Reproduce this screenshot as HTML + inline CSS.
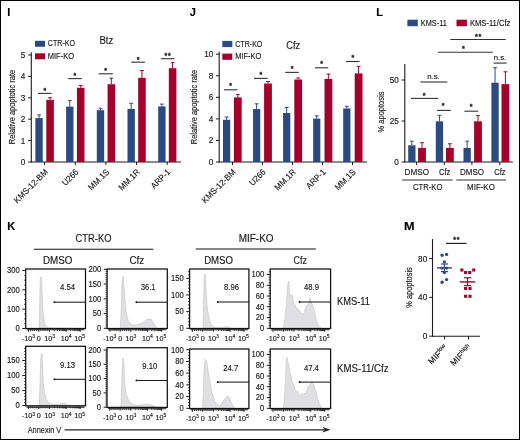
<!DOCTYPE html>
<html><head><meta charset="utf-8"><style>
html,body{margin:0;padding:0;background:#fff;}
body{width:520px;height:440px;overflow:hidden;}
svg{display:block;font-family:"Liberation Sans", sans-serif;will-change:transform;}
text{stroke:#1a1a1a;stroke-width:0.15px;} text.st{stroke:#222;stroke-width:0.3px;} text.b{stroke-width:0;}
</style></head><body>
<svg width="520" height="440" viewBox="0 0 520 440">
<rect x="0" y="0" width="520" height="440" fill="#fff"/>
<text x="7.3" y="16" font-size="11" text-anchor="start" font-weight="bold" fill="#000" >I</text>
<text x="189.8" y="16" font-size="11" text-anchor="start" font-weight="bold" fill="#000" >J</text>
<text x="376.3" y="16" font-size="11" text-anchor="start" font-weight="bold" fill="#000" >L</text>
<text x="7.2" y="229.8" font-size="11" text-anchor="start" font-weight="bold" fill="#000" >K</text>
<text x="404.0" y="229.8" font-size="11" text-anchor="start" font-weight="bold" fill="#000" textLength="10.6" lengthAdjust="spacingAndGlyphs" >M</text>
<line x1="31.3" y1="52.2" x2="31.3" y2="162.5" stroke="#1a1a1a" stroke-width="1.1"/>
<line x1="28.1" y1="162.0" x2="31.3" y2="162.0" stroke="#1a1a1a" stroke-width="1"/>
<text x="25.4" y="164.9" font-size="8.2" text-anchor="end" font-weight="normal" fill="#1a1a1a" >0</text>
<line x1="28.1" y1="140.6" x2="31.3" y2="140.6" stroke="#1a1a1a" stroke-width="1"/>
<text x="25.4" y="143.5" font-size="8.2" text-anchor="end" font-weight="normal" fill="#1a1a1a" >1</text>
<line x1="28.1" y1="119.2" x2="31.3" y2="119.2" stroke="#1a1a1a" stroke-width="1"/>
<text x="25.4" y="122.1" font-size="8.2" text-anchor="end" font-weight="normal" fill="#1a1a1a" >2</text>
<line x1="28.1" y1="97.8" x2="31.3" y2="97.8" stroke="#1a1a1a" stroke-width="1"/>
<text x="25.4" y="100.7" font-size="8.2" text-anchor="end" font-weight="normal" fill="#1a1a1a" >3</text>
<line x1="28.1" y1="76.4" x2="31.3" y2="76.4" stroke="#1a1a1a" stroke-width="1"/>
<text x="25.4" y="79.3" font-size="8.2" text-anchor="end" font-weight="normal" fill="#1a1a1a" >4</text>
<line x1="28.1" y1="55.0" x2="31.3" y2="55.0" stroke="#1a1a1a" stroke-width="1"/>
<text x="25.4" y="57.9" font-size="8.2" text-anchor="end" font-weight="normal" fill="#1a1a1a" >5</text>
<line x1="31.3" y1="162" x2="181" y2="162" stroke="#1a1a1a" stroke-width="1.1"/>
<rect x="35.4" y="118.1" width="7.35" height="43.9" fill="#2b4a80"/>
<line x1="39.07" y1="118.1" x2="39.07" y2="114.9" stroke="#2b4a80" stroke-width="1"/>
<line x1="37.17" y1="114.9" x2="40.97" y2="114.9" stroke="#2b4a80" stroke-width="1"/>
<rect x="66.1" y="106.6" width="7.35" height="55.4" fill="#2b4a80"/>
<line x1="69.77" y1="106.6" x2="69.77" y2="100.6" stroke="#2b4a80" stroke-width="1"/>
<line x1="67.87" y1="100.6" x2="71.67" y2="100.6" stroke="#2b4a80" stroke-width="1"/>
<rect x="96.8" y="110.2" width="7.35" height="51.8" fill="#2b4a80"/>
<line x1="100.47" y1="110.2" x2="100.47" y2="108.3" stroke="#2b4a80" stroke-width="1"/>
<line x1="98.57" y1="108.3" x2="102.38" y2="108.3" stroke="#2b4a80" stroke-width="1"/>
<rect x="127.5" y="109" width="7.35" height="53" fill="#2b4a80"/>
<line x1="131.18" y1="109" x2="131.18" y2="103.3" stroke="#2b4a80" stroke-width="1"/>
<line x1="129.28" y1="103.3" x2="133.08" y2="103.3" stroke="#2b4a80" stroke-width="1"/>
<rect x="158.2" y="106.4" width="7.35" height="55.6" fill="#2b4a80"/>
<line x1="161.88" y1="106.4" x2="161.88" y2="104.1" stroke="#2b4a80" stroke-width="1"/>
<line x1="159.97" y1="104.1" x2="163.78" y2="104.1" stroke="#2b4a80" stroke-width="1"/>
<rect x="46.3" y="99.8" width="7.55" height="62.2" fill="#a5002b"/>
<line x1="50.07" y1="99.8" x2="50.07" y2="97.7" stroke="#a5002b" stroke-width="1"/>
<line x1="48.17" y1="97.7" x2="51.97" y2="97.7" stroke="#a5002b" stroke-width="1"/>
<rect x="76.93" y="87.8" width="7.55" height="74.2" fill="#a5002b"/>
<line x1="80.7" y1="87.8" x2="80.7" y2="85.5" stroke="#a5002b" stroke-width="1"/>
<line x1="78.8" y1="85.5" x2="82.61" y2="85.5" stroke="#a5002b" stroke-width="1"/>
<rect x="107.56" y="84.2" width="7.55" height="77.8" fill="#a5002b"/>
<line x1="111.34" y1="84.2" x2="111.34" y2="78.2" stroke="#a5002b" stroke-width="1"/>
<line x1="109.44" y1="78.2" x2="113.24" y2="78.2" stroke="#a5002b" stroke-width="1"/>
<rect x="138.19" y="77.8" width="7.55" height="84.2" fill="#a5002b"/>
<line x1="141.97" y1="77.8" x2="141.97" y2="70.5" stroke="#a5002b" stroke-width="1"/>
<line x1="140.06" y1="70.5" x2="143.87" y2="70.5" stroke="#a5002b" stroke-width="1"/>
<rect x="168.82" y="68.2" width="7.55" height="93.8" fill="#a5002b"/>
<line x1="172.59" y1="68.2" x2="172.59" y2="62.7" stroke="#a5002b" stroke-width="1"/>
<line x1="170.69" y1="62.7" x2="174.5" y2="62.7" stroke="#a5002b" stroke-width="1"/>
<line x1="44.6" y1="162" x2="44.6" y2="165" stroke="#1a1a1a" stroke-width="1"/>
<line x1="75.25" y1="162" x2="75.25" y2="165" stroke="#1a1a1a" stroke-width="1"/>
<line x1="105.9" y1="162" x2="105.9" y2="165" stroke="#1a1a1a" stroke-width="1"/>
<line x1="136.55" y1="162" x2="136.55" y2="165" stroke="#1a1a1a" stroke-width="1"/>
<line x1="167.2" y1="162" x2="167.2" y2="165" stroke="#1a1a1a" stroke-width="1"/>
<rect x="35" y="40.8" width="10" height="6" fill="#2b4a80"/>
<text x="47.8" y="46.4" font-size="8.5" text-anchor="start" font-weight="normal" fill="#1a1a1a" textLength="27.2" lengthAdjust="spacingAndGlyphs" >CTR-KO</text>
<rect x="35" y="53.3" width="10" height="6" fill="#a5002b"/>
<text x="47.8" y="58.9" font-size="8.5" text-anchor="start" font-weight="normal" fill="#1a1a1a" textLength="26.2" lengthAdjust="spacingAndGlyphs" >MIF-KO</text>
<text x="99.4" y="43.6" font-size="10" text-anchor="start" font-weight="normal" fill="#1a1a1a" textLength="13.9" lengthAdjust="spacingAndGlyphs" >Btz</text>
<line x1="38.0" y1="93.4" x2="51.5" y2="93.4" stroke="#333" stroke-width="1.1"/>
<text x="44.75" y="93.0" font-size="7" text-anchor="middle" font-weight="bold" fill="#222" class="st">*</text>
<line x1="68.2" y1="78.6" x2="81.7" y2="78.6" stroke="#333" stroke-width="1.1"/>
<text x="74.95" y="78.2" font-size="7" text-anchor="middle" font-weight="bold" fill="#222" class="st">*</text>
<line x1="98.7" y1="73.8" x2="112.7" y2="73.8" stroke="#333" stroke-width="1.1"/>
<text x="105.7" y="73.4" font-size="7" text-anchor="middle" font-weight="bold" fill="#222" class="st">*</text>
<line x1="131.3" y1="62.2" x2="144.9" y2="62.2" stroke="#333" stroke-width="1.1"/>
<text x="138.1" y="61.8" font-size="7" text-anchor="middle" font-weight="bold" fill="#222" class="st">*</text>
<line x1="160.9" y1="58.7" x2="174.5" y2="58.7" stroke="#333" stroke-width="1.1"/>
<text x="165.95" y="58.3" font-size="7" text-anchor="middle" font-weight="bold" fill="#222" class="st">*</text>
<text x="169.45" y="58.3" font-size="7" text-anchor="middle" font-weight="bold" fill="#222" class="st">*</text>
<text transform="translate(15.2,107) rotate(-90)" font-size="8.3" text-anchor="middle" fill="#1a1a1a" textLength="74.5" lengthAdjust="spacingAndGlyphs">Relative apoptotic rate</text>
<text transform="translate(48.4,172.6) rotate(-45) scale(0.94,1)" font-size="8.6" text-anchor="end" fill="#1a1a1a">KMS-12-BM</text>
<text transform="translate(79.05,172.6) rotate(-45) scale(0.94,1)" font-size="8.6" text-anchor="end" fill="#1a1a1a">U266</text>
<text transform="translate(109.7,172.6) rotate(-45) scale(0.94,1)" font-size="8.6" text-anchor="end" fill="#1a1a1a">MM.1S</text>
<text transform="translate(140.35,172.6) rotate(-45) scale(0.94,1)" font-size="8.6" text-anchor="end" fill="#1a1a1a">MM.1R</text>
<text transform="translate(171.0,172.6) rotate(-45) scale(0.94,1)" font-size="8.6" text-anchor="end" fill="#1a1a1a">ARP-1</text>
<line x1="219.2" y1="51.8" x2="219.2" y2="162.5" stroke="#1a1a1a" stroke-width="1.1"/>
<line x1="216.0" y1="162.0" x2="219.2" y2="162.0" stroke="#1a1a1a" stroke-width="1"/>
<text x="213.3" y="164.9" font-size="8.2" text-anchor="end" font-weight="normal" fill="#1a1a1a" >0</text>
<line x1="216.0" y1="140.44" x2="219.2" y2="140.44" stroke="#1a1a1a" stroke-width="1"/>
<text x="213.3" y="143.34" font-size="8.2" text-anchor="end" font-weight="normal" fill="#1a1a1a" >2</text>
<line x1="216.0" y1="118.88" x2="219.2" y2="118.88" stroke="#1a1a1a" stroke-width="1"/>
<text x="213.3" y="121.78" font-size="8.2" text-anchor="end" font-weight="normal" fill="#1a1a1a" >4</text>
<line x1="216.0" y1="97.32" x2="219.2" y2="97.32" stroke="#1a1a1a" stroke-width="1"/>
<text x="213.3" y="100.22" font-size="8.2" text-anchor="end" font-weight="normal" fill="#1a1a1a" >6</text>
<line x1="216.0" y1="75.76" x2="219.2" y2="75.76" stroke="#1a1a1a" stroke-width="1"/>
<text x="213.3" y="78.66" font-size="8.2" text-anchor="end" font-weight="normal" fill="#1a1a1a" >8</text>
<line x1="216.0" y1="54.2" x2="219.2" y2="54.2" stroke="#1a1a1a" stroke-width="1"/>
<text x="213.3" y="57.1" font-size="8.2" text-anchor="end" font-weight="normal" fill="#1a1a1a" >10</text>
<line x1="219.2" y1="162" x2="367" y2="162" stroke="#1a1a1a" stroke-width="1.1"/>
<rect x="223.0" y="119.8" width="7.2" height="42.2" fill="#2b4a80"/>
<line x1="226.6" y1="119.8" x2="226.6" y2="117" stroke="#2b4a80" stroke-width="1"/>
<line x1="224.7" y1="117" x2="228.5" y2="117" stroke="#2b4a80" stroke-width="1"/>
<rect x="253.05" y="109.1" width="7.2" height="52.9" fill="#2b4a80"/>
<line x1="256.65" y1="109.1" x2="256.65" y2="103.8" stroke="#2b4a80" stroke-width="1"/>
<line x1="254.75" y1="103.8" x2="258.55" y2="103.8" stroke="#2b4a80" stroke-width="1"/>
<rect x="283.1" y="113" width="7.2" height="49" fill="#2b4a80"/>
<line x1="286.7" y1="113" x2="286.7" y2="107.5" stroke="#2b4a80" stroke-width="1"/>
<line x1="284.8" y1="107.5" x2="288.6" y2="107.5" stroke="#2b4a80" stroke-width="1"/>
<rect x="313.15" y="118.6" width="7.2" height="43.4" fill="#2b4a80"/>
<line x1="316.75" y1="118.6" x2="316.75" y2="115.8" stroke="#2b4a80" stroke-width="1"/>
<line x1="314.85" y1="115.8" x2="318.65" y2="115.8" stroke="#2b4a80" stroke-width="1"/>
<rect x="343.2" y="108.5" width="7.2" height="53.5" fill="#2b4a80"/>
<line x1="346.8" y1="108.5" x2="346.8" y2="106.3" stroke="#2b4a80" stroke-width="1"/>
<line x1="344.9" y1="106.3" x2="348.7" y2="106.3" stroke="#2b4a80" stroke-width="1"/>
<rect x="233.9" y="97.4" width="7.8" height="64.6" fill="#a5002b"/>
<line x1="237.8" y1="97.4" x2="237.8" y2="94.6" stroke="#a5002b" stroke-width="1"/>
<line x1="235.9" y1="94.6" x2="239.7" y2="94.6" stroke="#a5002b" stroke-width="1"/>
<rect x="264.1" y="83.5" width="7.8" height="78.5" fill="#a5002b"/>
<line x1="268.0" y1="83.5" x2="268.0" y2="81.5" stroke="#a5002b" stroke-width="1"/>
<line x1="266.1" y1="81.5" x2="269.9" y2="81.5" stroke="#a5002b" stroke-width="1"/>
<rect x="294.3" y="79.5" width="7.8" height="82.5" fill="#a5002b"/>
<line x1="298.2" y1="79.5" x2="298.2" y2="77.9" stroke="#a5002b" stroke-width="1"/>
<line x1="296.3" y1="77.9" x2="300.1" y2="77.9" stroke="#a5002b" stroke-width="1"/>
<rect x="324.5" y="78.9" width="7.8" height="83.1" fill="#a5002b"/>
<line x1="328.4" y1="78.9" x2="328.4" y2="74" stroke="#a5002b" stroke-width="1"/>
<line x1="326.5" y1="74" x2="330.3" y2="74" stroke="#a5002b" stroke-width="1"/>
<rect x="354.7" y="73.4" width="7.8" height="88.6" fill="#a5002b"/>
<line x1="358.6" y1="73.4" x2="358.6" y2="66.4" stroke="#a5002b" stroke-width="1"/>
<line x1="356.7" y1="66.4" x2="360.5" y2="66.4" stroke="#a5002b" stroke-width="1"/>
<line x1="232.5" y1="162" x2="232.5" y2="165" stroke="#1a1a1a" stroke-width="1"/>
<line x1="262.5" y1="162" x2="262.5" y2="165" stroke="#1a1a1a" stroke-width="1"/>
<line x1="292.5" y1="162" x2="292.5" y2="165" stroke="#1a1a1a" stroke-width="1"/>
<line x1="322.5" y1="162" x2="322.5" y2="165" stroke="#1a1a1a" stroke-width="1"/>
<line x1="352.5" y1="162" x2="352.5" y2="165" stroke="#1a1a1a" stroke-width="1"/>
<rect x="222.3" y="40.9" width="10" height="6.2" fill="#2b4a80"/>
<text x="235.2" y="46.6" font-size="8.5" text-anchor="start" font-weight="normal" fill="#1a1a1a" textLength="27.2" lengthAdjust="spacingAndGlyphs" >CTR-KO</text>
<rect x="222.3" y="53.6" width="10" height="6.2" fill="#a5002b"/>
<text x="235.2" y="59.1" font-size="8.5" text-anchor="start" font-weight="normal" fill="#1a1a1a" textLength="26.2" lengthAdjust="spacingAndGlyphs" >MIF-KO</text>
<text x="286.3" y="49.0" font-size="10" text-anchor="start" font-weight="normal" fill="#1a1a1a" textLength="13.8" lengthAdjust="spacingAndGlyphs" >Cfz</text>
<line x1="223.9" y1="89.8" x2="237.5" y2="89.8" stroke="#333" stroke-width="1.1"/>
<text x="230.7" y="88.1" font-size="7" text-anchor="middle" font-weight="bold" fill="#222" class="st">*</text>
<line x1="254.0" y1="78.4" x2="267.7" y2="78.4" stroke="#333" stroke-width="1.1"/>
<text x="260.85" y="76.7" font-size="7" text-anchor="middle" font-weight="bold" fill="#222" class="st">*</text>
<line x1="285.2" y1="72.4" x2="298.8" y2="72.4" stroke="#333" stroke-width="1.1"/>
<text x="292.0" y="70.7" font-size="7" text-anchor="middle" font-weight="bold" fill="#222" class="st">*</text>
<line x1="315.0" y1="67.8" x2="328.3" y2="67.8" stroke="#333" stroke-width="1.1"/>
<text x="321.65" y="66.1" font-size="7" text-anchor="middle" font-weight="bold" fill="#222" class="st">*</text>
<line x1="345.9" y1="61.5" x2="359.6" y2="61.5" stroke="#333" stroke-width="1.1"/>
<text x="352.75" y="59.8" font-size="7" text-anchor="middle" font-weight="bold" fill="#222" class="st">*</text>
<text transform="translate(197.2,107) rotate(-90)" font-size="8.3" text-anchor="middle" fill="#1a1a1a" textLength="74.5" lengthAdjust="spacingAndGlyphs">Relative apoptotic rate</text>
<text transform="translate(236.3,172.6) rotate(-45) scale(0.94,1)" font-size="8.6" text-anchor="end" fill="#1a1a1a">KMS-12-BM</text>
<text transform="translate(266.3,172.6) rotate(-45) scale(0.94,1)" font-size="8.6" text-anchor="end" fill="#1a1a1a">U266</text>
<text transform="translate(296.3,172.6) rotate(-45) scale(0.94,1)" font-size="8.6" text-anchor="end" fill="#1a1a1a">MM.1R</text>
<text transform="translate(326.3,172.6) rotate(-45) scale(0.94,1)" font-size="8.6" text-anchor="end" fill="#1a1a1a">ARP-1</text>
<text transform="translate(356.3,172.6) rotate(-45) scale(0.94,1)" font-size="8.6" text-anchor="end" fill="#1a1a1a">MM.1S</text>
<line x1="404.8" y1="64" x2="404.8" y2="162.5" stroke="#1a1a1a" stroke-width="1.1"/>
<line x1="401.6" y1="162.0" x2="404.8" y2="162.0" stroke="#1a1a1a" stroke-width="1"/>
<text x="398.9" y="164.9" font-size="8.2" text-anchor="end" font-weight="normal" fill="#1a1a1a" >0</text>
<line x1="401.6" y1="121.0" x2="404.8" y2="121.0" stroke="#1a1a1a" stroke-width="1"/>
<text x="398.9" y="123.9" font-size="8.2" text-anchor="end" font-weight="normal" fill="#1a1a1a" >25</text>
<line x1="401.6" y1="80.0" x2="404.8" y2="80.0" stroke="#1a1a1a" stroke-width="1"/>
<text x="398.9" y="82.9" font-size="8.2" text-anchor="end" font-weight="normal" fill="#1a1a1a" >50</text>
<line x1="404.8" y1="162" x2="512.8" y2="162" stroke="#1a1a1a" stroke-width="1.1"/>
<rect x="408.2" y="145.3" width="7.3" height="16.7" fill="#2b4a80"/>
<line x1="411.85" y1="145.3" x2="411.85" y2="141.2" stroke="#2b4a80" stroke-width="1"/>
<line x1="409.95" y1="141.2" x2="413.75" y2="141.2" stroke="#2b4a80" stroke-width="1"/>
<rect x="435.8" y="121.3" width="7.3" height="40.7" fill="#2b4a80"/>
<line x1="439.45" y1="121.3" x2="439.45" y2="115.3" stroke="#2b4a80" stroke-width="1"/>
<line x1="437.55" y1="115.3" x2="441.35" y2="115.3" stroke="#2b4a80" stroke-width="1"/>
<rect x="463.5" y="147.9" width="7.3" height="14.1" fill="#2b4a80"/>
<line x1="467.15" y1="147.9" x2="467.15" y2="141.2" stroke="#2b4a80" stroke-width="1"/>
<line x1="465.25" y1="141.2" x2="469.05" y2="141.2" stroke="#2b4a80" stroke-width="1"/>
<rect x="491.4" y="82.7" width="7.3" height="79.3" fill="#2b4a80"/>
<line x1="495.05" y1="82.7" x2="495.05" y2="67.7" stroke="#2b4a80" stroke-width="1"/>
<line x1="493.15" y1="67.7" x2="496.95" y2="67.7" stroke="#2b4a80" stroke-width="1"/>
<rect x="418.1" y="147.9" width="7.8" height="14.1" fill="#a5002b"/>
<line x1="422.0" y1="147.9" x2="422.0" y2="142.7" stroke="#a5002b" stroke-width="1"/>
<line x1="420.1" y1="142.7" x2="423.9" y2="142.7" stroke="#a5002b" stroke-width="1"/>
<rect x="446.0" y="147.9" width="7.8" height="14.1" fill="#a5002b"/>
<line x1="449.9" y1="147.9" x2="449.9" y2="143.8" stroke="#a5002b" stroke-width="1"/>
<line x1="448.0" y1="143.8" x2="451.8" y2="143.8" stroke="#a5002b" stroke-width="1"/>
<rect x="474.1" y="121.3" width="7.8" height="40.7" fill="#a5002b"/>
<line x1="478.0" y1="121.3" x2="478.0" y2="115.6" stroke="#a5002b" stroke-width="1"/>
<line x1="476.1" y1="115.6" x2="479.9" y2="115.6" stroke="#a5002b" stroke-width="1"/>
<rect x="501.5" y="84.1" width="7.8" height="77.9" fill="#a5002b"/>
<line x1="505.4" y1="84.1" x2="505.4" y2="71.8" stroke="#a5002b" stroke-width="1"/>
<line x1="503.5" y1="71.8" x2="507.3" y2="71.8" stroke="#a5002b" stroke-width="1"/>
<line x1="416.6" y1="162" x2="416.6" y2="165" stroke="#1a1a1a" stroke-width="1"/>
<line x1="444.3" y1="162" x2="444.3" y2="165" stroke="#1a1a1a" stroke-width="1"/>
<line x1="471.9" y1="162" x2="471.9" y2="165" stroke="#1a1a1a" stroke-width="1"/>
<line x1="499.8" y1="162" x2="499.8" y2="165" stroke="#1a1a1a" stroke-width="1"/>
<rect x="407.4" y="19.7" width="10.4" height="6.5" fill="#2b4a80"/>
<text x="420.8" y="25.9" font-size="8.5" text-anchor="start" font-weight="normal" fill="#1a1a1a" textLength="26" lengthAdjust="spacingAndGlyphs" >KMS-11</text>
<rect x="456.5" y="19.7" width="10.4" height="6.5" fill="#a5002b"/>
<text x="470" y="25.9" font-size="8.5" text-anchor="start" font-weight="normal" fill="#1a1a1a" textLength="40.3" lengthAdjust="spacingAndGlyphs" >KMS-11/Cfz</text>
<line x1="411" y1="98.4" x2="438" y2="98.4" stroke="#333" stroke-width="1.1"/>
<text x="424.2" y="97.5" font-size="7" text-anchor="middle" font-weight="bold" fill="#222" class="st">*</text>
<line x1="420.3" y1="82" x2="447.3" y2="82" stroke="#333" stroke-width="1.1"/>
<text x="433.5" y="79.3" font-size="7.8" text-anchor="middle" font-weight="normal" fill="#222" >n.s.</text>
<line x1="436.9" y1="110.4" x2="450.8" y2="110.4" stroke="#333" stroke-width="1.1"/>
<text x="443.2" y="108.4" font-size="7" text-anchor="middle" font-weight="bold" fill="#222" class="st">*</text>
<line x1="464.3" y1="111.2" x2="478.2" y2="111.2" stroke="#333" stroke-width="1.1"/>
<text x="471.1" y="109.3" font-size="7" text-anchor="middle" font-weight="bold" fill="#222" class="st">*</text>
<line x1="493.5" y1="63.1" x2="506.6" y2="63.1" stroke="#333" stroke-width="1.1"/>
<text x="500" y="60.3" font-size="7.8" text-anchor="middle" font-weight="normal" fill="#222" >n.s.</text>
<line x1="438" y1="52.2" x2="492.8" y2="52.2" stroke="#333" stroke-width="1.1"/>
<text x="463.4" y="51.3" font-size="7" text-anchor="middle" font-weight="bold" fill="#222" class="st">*</text>
<line x1="450.3" y1="39.5" x2="505.7" y2="39.5" stroke="#333" stroke-width="1.1"/>
<text x="476.35" y="38.6" font-size="7" text-anchor="middle" font-weight="bold" fill="#222" class="st">*</text>
<text x="479.85" y="38.6" font-size="7" text-anchor="middle" font-weight="bold" fill="#222" class="st">*</text>
<text transform="translate(384,112) rotate(-90)" font-size="8.8" text-anchor="middle" fill="#1a1a1a" textLength="41" lengthAdjust="spacingAndGlyphs">% apoptosis</text>
<text x="404.6" y="175.3" font-size="9" text-anchor="start" font-weight="normal" fill="#1a1a1a" textLength="24.5" lengthAdjust="spacingAndGlyphs" >DMSO</text>
<text x="439" y="175.3" font-size="9" text-anchor="start" font-weight="normal" fill="#1a1a1a" textLength="11.3" lengthAdjust="spacingAndGlyphs" >Cfz</text>
<text x="459.9" y="175.3" font-size="9" text-anchor="start" font-weight="normal" fill="#1a1a1a" textLength="24.1" lengthAdjust="spacingAndGlyphs" >DMSO</text>
<text x="494.3" y="175.3" font-size="9" text-anchor="start" font-weight="normal" fill="#1a1a1a" textLength="11.3" lengthAdjust="spacingAndGlyphs" >Cfz</text>
<line x1="402.2" y1="180" x2="452.7" y2="180" stroke="#333" stroke-width="1.2"/>
<line x1="456.3" y1="180" x2="506" y2="180" stroke="#333" stroke-width="1.2"/>
<text x="413" y="190.4" font-size="8.6" text-anchor="start" font-weight="normal" fill="#1a1a1a" textLength="29.4" lengthAdjust="spacingAndGlyphs" >CTR-KO</text>
<text x="467.1" y="190.4" font-size="8.6" text-anchor="start" font-weight="normal" fill="#1a1a1a" textLength="27.7" lengthAdjust="spacingAndGlyphs" >MIF-KO</text>
<text x="75.6" y="242" font-size="10" text-anchor="start" font-weight="normal" fill="#1a1a1a" textLength="35.9" lengthAdjust="spacingAndGlyphs" >CTR-KO</text>
<line x1="33.7" y1="249.3" x2="153.3" y2="249.3" stroke="#111" stroke-width="1.1"/>
<text x="238.8" y="242" font-size="10" text-anchor="start" font-weight="normal" fill="#1a1a1a" textLength="34.7" lengthAdjust="spacingAndGlyphs" >MIF-KO</text>
<line x1="195.8" y1="249.0" x2="315.8" y2="249.0" stroke="#111" stroke-width="1.1"/>
<text x="42.9" y="264.1" font-size="10" text-anchor="start" font-weight="normal" fill="#1a1a1a" textLength="29.4" lengthAdjust="spacingAndGlyphs" >DMSO</text>
<text x="129.5" y="264.1" font-size="10" text-anchor="start" font-weight="normal" fill="#1a1a1a" textLength="14.7" lengthAdjust="spacingAndGlyphs" >Cfz</text>
<text x="204.2" y="264.1" font-size="10" text-anchor="start" font-weight="normal" fill="#1a1a1a" textLength="28.8" lengthAdjust="spacingAndGlyphs" >DMSO</text>
<text x="293.5" y="264.1" font-size="10" text-anchor="start" font-weight="normal" fill="#1a1a1a" textLength="13.4" lengthAdjust="spacingAndGlyphs" >Cfz</text>
<text x="337.0" y="305.1" font-size="10.6" text-anchor="start" font-weight="normal" fill="#1a1a1a" textLength="33.0" lengthAdjust="spacingAndGlyphs" >KMS-11</text>
<text x="337.1" y="372.4" font-size="10.6" text-anchor="start" font-weight="normal" fill="#1a1a1a" textLength="51.4" lengthAdjust="spacingAndGlyphs" >KMS-11/Cfz</text>
<text x="27.7" y="433.3" font-size="9" text-anchor="start" font-weight="normal" fill="#1a1a1a" textLength="33.6" lengthAdjust="spacingAndGlyphs" >Annexin V</text>
<line x1="64.6" y1="429.8" x2="324" y2="429.8" stroke="#222" stroke-width="1.3"/>
<path d="M322.5,427 L330.5,429.8 L322.5,432.6 L324.5,429.8 Z" fill="#222"/>
<polygon points="39.3,328.5 39.8,300 40.3,277.2 41.3,277 41.8,284 42.3,298 42.9,310 43.7,318 44.8,323.5 46.3,326.6 48.5,327.8 60,328.2 85,328.5" fill="#e0e0e2" stroke="#c2c2c6" stroke-width="0.6"/>
<rect x="25.7" y="269" width="59.8" height="59.5" fill="none" stroke="#111" stroke-width="1.25"/>
<line x1="22.3" y1="270.5" x2="25.7" y2="270.5" stroke="#1a1a1a" stroke-width="1"/>
<text x="19.8" y="273.3" font-size="8.2" text-anchor="end" font-weight="normal" fill="#1a1a1a" textLength="12.75" lengthAdjust="spacingAndGlyphs" >300</text>
<line x1="22.3" y1="289.83" x2="25.7" y2="289.83" stroke="#1a1a1a" stroke-width="1"/>
<text x="19.8" y="292.63" font-size="8.2" text-anchor="end" font-weight="normal" fill="#1a1a1a" textLength="12.75" lengthAdjust="spacingAndGlyphs" >200</text>
<line x1="22.3" y1="309.17" x2="25.7" y2="309.17" stroke="#1a1a1a" stroke-width="1"/>
<text x="19.8" y="311.97" font-size="8.2" text-anchor="end" font-weight="normal" fill="#1a1a1a" textLength="12.75" lengthAdjust="spacingAndGlyphs" >100</text>
<line x1="22.3" y1="328.5" x2="25.7" y2="328.5" stroke="#1a1a1a" stroke-width="1"/>
<text x="19.8" y="331.3" font-size="8.2" text-anchor="end" font-weight="normal" fill="#1a1a1a" textLength="4.25" lengthAdjust="spacingAndGlyphs" >0</text>
<line x1="24.1" y1="323.67" x2="25.7" y2="323.67" stroke="#1a1a1a" stroke-width="0.8"/>
<line x1="24.1" y1="318.83" x2="25.7" y2="318.83" stroke="#1a1a1a" stroke-width="0.8"/>
<line x1="24.1" y1="314.0" x2="25.7" y2="314.0" stroke="#1a1a1a" stroke-width="0.8"/>
<line x1="24.1" y1="304.33" x2="25.7" y2="304.33" stroke="#1a1a1a" stroke-width="0.8"/>
<line x1="24.1" y1="299.5" x2="25.7" y2="299.5" stroke="#1a1a1a" stroke-width="0.8"/>
<line x1="24.1" y1="294.67" x2="25.7" y2="294.67" stroke="#1a1a1a" stroke-width="0.8"/>
<line x1="24.1" y1="285.0" x2="25.7" y2="285.0" stroke="#1a1a1a" stroke-width="0.8"/>
<line x1="24.1" y1="280.17" x2="25.7" y2="280.17" stroke="#1a1a1a" stroke-width="0.8"/>
<line x1="24.1" y1="275.33" x2="25.7" y2="275.33" stroke="#1a1a1a" stroke-width="0.8"/>
<line x1="26.7" y1="329.8" x2="84.5" y2="329.8" stroke="#1a1a1a" stroke-width="1.1"/>
<line x1="28.5" y1="329.5" x2="28.5" y2="331.7" stroke="#1a1a1a" stroke-width="1"/>
<line x1="38.8" y1="329.5" x2="38.8" y2="331.7" stroke="#1a1a1a" stroke-width="1"/>
<line x1="49.4" y1="329.5" x2="49.4" y2="331.7" stroke="#1a1a1a" stroke-width="1"/>
<line x1="66.2" y1="329.5" x2="66.2" y2="331.7" stroke="#1a1a1a" stroke-width="1"/>
<line x1="80.2" y1="329.5" x2="80.2" y2="331.7" stroke="#1a1a1a" stroke-width="1"/>
<line x1="54.46" y1="329.5" x2="54.46" y2="331.1" stroke="#1a1a1a" stroke-width="0.8"/>
<line x1="57.42" y1="329.5" x2="57.42" y2="331.1" stroke="#1a1a1a" stroke-width="0.8"/>
<line x1="59.51" y1="329.5" x2="59.51" y2="331.1" stroke="#1a1a1a" stroke-width="0.8"/>
<line x1="61.14" y1="329.5" x2="61.14" y2="331.1" stroke="#1a1a1a" stroke-width="0.8"/>
<line x1="62.47" y1="329.5" x2="62.47" y2="331.1" stroke="#1a1a1a" stroke-width="0.8"/>
<line x1="63.6" y1="329.5" x2="63.6" y2="331.1" stroke="#1a1a1a" stroke-width="0.8"/>
<line x1="64.57" y1="329.5" x2="64.57" y2="331.1" stroke="#1a1a1a" stroke-width="0.8"/>
<line x1="65.43" y1="329.5" x2="65.43" y2="331.1" stroke="#1a1a1a" stroke-width="0.8"/>
<line x1="70.41" y1="329.5" x2="70.41" y2="331.1" stroke="#1a1a1a" stroke-width="0.8"/>
<line x1="72.88" y1="329.5" x2="72.88" y2="331.1" stroke="#1a1a1a" stroke-width="0.8"/>
<line x1="74.63" y1="329.5" x2="74.63" y2="331.1" stroke="#1a1a1a" stroke-width="0.8"/>
<line x1="75.99" y1="329.5" x2="75.99" y2="331.1" stroke="#1a1a1a" stroke-width="0.8"/>
<line x1="77.09" y1="329.5" x2="77.09" y2="331.1" stroke="#1a1a1a" stroke-width="0.8"/>
<line x1="78.03" y1="329.5" x2="78.03" y2="331.1" stroke="#1a1a1a" stroke-width="0.8"/>
<line x1="78.84" y1="329.5" x2="78.84" y2="331.1" stroke="#1a1a1a" stroke-width="0.8"/>
<line x1="79.56" y1="329.5" x2="79.56" y2="331.1" stroke="#1a1a1a" stroke-width="0.8"/>
<line x1="30.56" y1="329.5" x2="30.56" y2="331.1" stroke="#1a1a1a" stroke-width="0.8"/>
<line x1="32.62" y1="329.5" x2="32.62" y2="331.1" stroke="#1a1a1a" stroke-width="0.8"/>
<line x1="34.68" y1="329.5" x2="34.68" y2="331.1" stroke="#1a1a1a" stroke-width="0.8"/>
<line x1="36.74" y1="329.5" x2="36.74" y2="331.1" stroke="#1a1a1a" stroke-width="0.8"/>
<line x1="40.92" y1="329.5" x2="40.92" y2="331.1" stroke="#1a1a1a" stroke-width="0.8"/>
<line x1="43.04" y1="329.5" x2="43.04" y2="331.1" stroke="#1a1a1a" stroke-width="0.8"/>
<line x1="45.16" y1="329.5" x2="45.16" y2="331.1" stroke="#1a1a1a" stroke-width="0.8"/>
<line x1="47.28" y1="329.5" x2="47.28" y2="331.1" stroke="#1a1a1a" stroke-width="0.8"/>
<text x="21.8" y="340.9" font-size="7.2" fill="#1a1a1a">-10<tspan font-size="5" dy="-2.6">3</tspan></text>
<text x="36.8" y="340.9" font-size="7.2" text-anchor="start" font-weight="normal" fill="#1a1a1a" >0</text>
<text x="44.2" y="340.9" font-size="7.2" fill="#1a1a1a">10<tspan font-size="5" dy="-2.6">3</tspan></text>
<text x="60.7" y="340.9" font-size="7.2" fill="#1a1a1a">10<tspan font-size="5" dy="-2.6">4</tspan></text>
<text x="74.2" y="340.9" font-size="7.2" fill="#1a1a1a">10<tspan font-size="5" dy="-2.6">5</tspan></text>
<line x1="54.2" y1="302.2" x2="85.5" y2="302.2" stroke="#1a1a1a" stroke-width="1.05"/>
<rect x="53.6" y="301.3" width="1.5" height="1.8" fill="#1a1a1a"/>
<text x="60" y="290.0" font-size="8.8" text-anchor="start" font-weight="normal" fill="#1a1a1a" textLength="15.0" lengthAdjust="spacingAndGlyphs" >4.54</text>
<polygon points="120.2,328.5 121.2,312.3 122.1,281.3 123,275.9 124,286.9 125,301 126.1,312.3 128.2,320.7 131,324.2 135.2,325.2 138.8,324.2 141.6,323.5 145.1,320.7 147.9,318.6 149.3,319.5 151.4,319.3 153.5,322.8 155.7,326.3 157.5,328.5" fill="#e0e0e2" stroke="#c2c2c6" stroke-width="0.6"/>
<rect x="107.1" y="269" width="60.20000000000002" height="59.5" fill="none" stroke="#111" stroke-width="1.25"/>
<line x1="103.7" y1="269.3" x2="107.1" y2="269.3" stroke="#1a1a1a" stroke-width="1"/>
<text x="101.2" y="272.1" font-size="8.2" text-anchor="end" font-weight="normal" fill="#1a1a1a" textLength="12.75" lengthAdjust="spacingAndGlyphs" >200</text>
<line x1="103.7" y1="284.05" x2="107.1" y2="284.05" stroke="#1a1a1a" stroke-width="1"/>
<text x="101.2" y="286.85" font-size="8.2" text-anchor="end" font-weight="normal" fill="#1a1a1a" textLength="12.75" lengthAdjust="spacingAndGlyphs" >150</text>
<line x1="103.7" y1="298.8" x2="107.1" y2="298.8" stroke="#1a1a1a" stroke-width="1"/>
<text x="101.2" y="301.6" font-size="8.2" text-anchor="end" font-weight="normal" fill="#1a1a1a" textLength="12.75" lengthAdjust="spacingAndGlyphs" >100</text>
<line x1="103.7" y1="313.55" x2="107.1" y2="313.55" stroke="#1a1a1a" stroke-width="1"/>
<text x="101.2" y="316.35" font-size="8.2" text-anchor="end" font-weight="normal" fill="#1a1a1a" textLength="8.5" lengthAdjust="spacingAndGlyphs" >50</text>
<line x1="103.7" y1="328.3" x2="107.1" y2="328.3" stroke="#1a1a1a" stroke-width="1"/>
<text x="101.2" y="331.1" font-size="8.2" text-anchor="end" font-weight="normal" fill="#1a1a1a" textLength="4.25" lengthAdjust="spacingAndGlyphs" >0</text>
<line x1="105.5" y1="326.19" x2="107.1" y2="326.19" stroke="#1a1a1a" stroke-width="0.8"/>
<line x1="105.5" y1="324.09" x2="107.1" y2="324.09" stroke="#1a1a1a" stroke-width="0.8"/>
<line x1="105.5" y1="321.98" x2="107.1" y2="321.98" stroke="#1a1a1a" stroke-width="0.8"/>
<line x1="105.5" y1="319.87" x2="107.1" y2="319.87" stroke="#1a1a1a" stroke-width="0.8"/>
<line x1="105.5" y1="317.76" x2="107.1" y2="317.76" stroke="#1a1a1a" stroke-width="0.8"/>
<line x1="105.5" y1="315.66" x2="107.1" y2="315.66" stroke="#1a1a1a" stroke-width="0.8"/>
<line x1="105.5" y1="311.44" x2="107.1" y2="311.44" stroke="#1a1a1a" stroke-width="0.8"/>
<line x1="105.5" y1="309.34" x2="107.1" y2="309.34" stroke="#1a1a1a" stroke-width="0.8"/>
<line x1="105.5" y1="307.23" x2="107.1" y2="307.23" stroke="#1a1a1a" stroke-width="0.8"/>
<line x1="105.5" y1="305.12" x2="107.1" y2="305.12" stroke="#1a1a1a" stroke-width="0.8"/>
<line x1="105.5" y1="303.01" x2="107.1" y2="303.01" stroke="#1a1a1a" stroke-width="0.8"/>
<line x1="105.5" y1="300.91" x2="107.1" y2="300.91" stroke="#1a1a1a" stroke-width="0.8"/>
<line x1="105.5" y1="296.69" x2="107.1" y2="296.69" stroke="#1a1a1a" stroke-width="0.8"/>
<line x1="105.5" y1="294.59" x2="107.1" y2="294.59" stroke="#1a1a1a" stroke-width="0.8"/>
<line x1="105.5" y1="292.48" x2="107.1" y2="292.48" stroke="#1a1a1a" stroke-width="0.8"/>
<line x1="105.5" y1="290.37" x2="107.1" y2="290.37" stroke="#1a1a1a" stroke-width="0.8"/>
<line x1="105.5" y1="288.26" x2="107.1" y2="288.26" stroke="#1a1a1a" stroke-width="0.8"/>
<line x1="105.5" y1="286.16" x2="107.1" y2="286.16" stroke="#1a1a1a" stroke-width="0.8"/>
<line x1="105.5" y1="281.94" x2="107.1" y2="281.94" stroke="#1a1a1a" stroke-width="0.8"/>
<line x1="105.5" y1="279.84" x2="107.1" y2="279.84" stroke="#1a1a1a" stroke-width="0.8"/>
<line x1="105.5" y1="277.73" x2="107.1" y2="277.73" stroke="#1a1a1a" stroke-width="0.8"/>
<line x1="105.5" y1="275.62" x2="107.1" y2="275.62" stroke="#1a1a1a" stroke-width="0.8"/>
<line x1="105.5" y1="273.51" x2="107.1" y2="273.51" stroke="#1a1a1a" stroke-width="0.8"/>
<line x1="105.5" y1="271.41" x2="107.1" y2="271.41" stroke="#1a1a1a" stroke-width="0.8"/>
<line x1="108.1" y1="329.8" x2="166.3" y2="329.8" stroke="#1a1a1a" stroke-width="1.1"/>
<line x1="109.9" y1="329.5" x2="109.9" y2="331.7" stroke="#1a1a1a" stroke-width="1"/>
<line x1="120.2" y1="329.5" x2="120.2" y2="331.7" stroke="#1a1a1a" stroke-width="1"/>
<line x1="130.8" y1="329.5" x2="130.8" y2="331.7" stroke="#1a1a1a" stroke-width="1"/>
<line x1="147.6" y1="329.5" x2="147.6" y2="331.7" stroke="#1a1a1a" stroke-width="1"/>
<line x1="161.6" y1="329.5" x2="161.6" y2="331.7" stroke="#1a1a1a" stroke-width="1"/>
<line x1="135.86" y1="329.5" x2="135.86" y2="331.1" stroke="#1a1a1a" stroke-width="0.8"/>
<line x1="138.82" y1="329.5" x2="138.82" y2="331.1" stroke="#1a1a1a" stroke-width="0.8"/>
<line x1="140.91" y1="329.5" x2="140.91" y2="331.1" stroke="#1a1a1a" stroke-width="0.8"/>
<line x1="142.54" y1="329.5" x2="142.54" y2="331.1" stroke="#1a1a1a" stroke-width="0.8"/>
<line x1="143.87" y1="329.5" x2="143.87" y2="331.1" stroke="#1a1a1a" stroke-width="0.8"/>
<line x1="145.0" y1="329.5" x2="145.0" y2="331.1" stroke="#1a1a1a" stroke-width="0.8"/>
<line x1="145.97" y1="329.5" x2="145.97" y2="331.1" stroke="#1a1a1a" stroke-width="0.8"/>
<line x1="146.83" y1="329.5" x2="146.83" y2="331.1" stroke="#1a1a1a" stroke-width="0.8"/>
<line x1="151.81" y1="329.5" x2="151.81" y2="331.1" stroke="#1a1a1a" stroke-width="0.8"/>
<line x1="154.28" y1="329.5" x2="154.28" y2="331.1" stroke="#1a1a1a" stroke-width="0.8"/>
<line x1="156.03" y1="329.5" x2="156.03" y2="331.1" stroke="#1a1a1a" stroke-width="0.8"/>
<line x1="157.39" y1="329.5" x2="157.39" y2="331.1" stroke="#1a1a1a" stroke-width="0.8"/>
<line x1="158.49" y1="329.5" x2="158.49" y2="331.1" stroke="#1a1a1a" stroke-width="0.8"/>
<line x1="159.43" y1="329.5" x2="159.43" y2="331.1" stroke="#1a1a1a" stroke-width="0.8"/>
<line x1="160.24" y1="329.5" x2="160.24" y2="331.1" stroke="#1a1a1a" stroke-width="0.8"/>
<line x1="160.96" y1="329.5" x2="160.96" y2="331.1" stroke="#1a1a1a" stroke-width="0.8"/>
<line x1="111.96" y1="329.5" x2="111.96" y2="331.1" stroke="#1a1a1a" stroke-width="0.8"/>
<line x1="114.02" y1="329.5" x2="114.02" y2="331.1" stroke="#1a1a1a" stroke-width="0.8"/>
<line x1="116.08" y1="329.5" x2="116.08" y2="331.1" stroke="#1a1a1a" stroke-width="0.8"/>
<line x1="118.14" y1="329.5" x2="118.14" y2="331.1" stroke="#1a1a1a" stroke-width="0.8"/>
<line x1="122.32" y1="329.5" x2="122.32" y2="331.1" stroke="#1a1a1a" stroke-width="0.8"/>
<line x1="124.44" y1="329.5" x2="124.44" y2="331.1" stroke="#1a1a1a" stroke-width="0.8"/>
<line x1="126.56" y1="329.5" x2="126.56" y2="331.1" stroke="#1a1a1a" stroke-width="0.8"/>
<line x1="128.68" y1="329.5" x2="128.68" y2="331.1" stroke="#1a1a1a" stroke-width="0.8"/>
<text x="103.19999999999999" y="340.9" font-size="7.2" fill="#1a1a1a">-10<tspan font-size="5" dy="-2.6">3</tspan></text>
<text x="118.2" y="340.9" font-size="7.2" text-anchor="start" font-weight="normal" fill="#1a1a1a" >0</text>
<text x="125.6" y="340.9" font-size="7.2" fill="#1a1a1a">10<tspan font-size="5" dy="-2.6">3</tspan></text>
<text x="142.1" y="340.9" font-size="7.2" fill="#1a1a1a">10<tspan font-size="5" dy="-2.6">4</tspan></text>
<text x="155.6" y="340.9" font-size="7.2" fill="#1a1a1a">10<tspan font-size="5" dy="-2.6">5</tspan></text>
<line x1="136.2" y1="302.2" x2="167.3" y2="302.2" stroke="#1a1a1a" stroke-width="1.05"/>
<rect x="135.6" y="301.3" width="1.5" height="1.8" fill="#1a1a1a"/>
<text x="141" y="290.0" font-size="8.8" text-anchor="start" font-weight="normal" fill="#1a1a1a" textLength="14.4" lengthAdjust="spacingAndGlyphs" >36.1</text>
<polygon points="203,328.5 203.4,311.6 204,282.5 204.5,273.8 205.2,274.5 205.9,286.9 206.6,300 207.8,311.6 209.3,318.9 211,324 213.2,326.5 215.4,327.3 222,327.8 226.3,326.4 229.2,327.5 232,328.5" fill="#e0e0e2" stroke="#c2c2c6" stroke-width="0.6"/>
<rect x="189.6" y="269" width="59.30000000000001" height="59.5" fill="none" stroke="#111" stroke-width="1.25"/>
<line x1="186.2" y1="278.3" x2="189.6" y2="278.3" stroke="#1a1a1a" stroke-width="1"/>
<text x="183.7" y="281.1" font-size="8.2" text-anchor="end" font-weight="normal" fill="#1a1a1a" textLength="12.75" lengthAdjust="spacingAndGlyphs" >150</text>
<line x1="186.2" y1="294.97" x2="189.6" y2="294.97" stroke="#1a1a1a" stroke-width="1"/>
<text x="183.7" y="297.77" font-size="8.2" text-anchor="end" font-weight="normal" fill="#1a1a1a" textLength="12.75" lengthAdjust="spacingAndGlyphs" >100</text>
<line x1="186.2" y1="311.63" x2="189.6" y2="311.63" stroke="#1a1a1a" stroke-width="1"/>
<text x="183.7" y="314.43" font-size="8.2" text-anchor="end" font-weight="normal" fill="#1a1a1a" textLength="8.5" lengthAdjust="spacingAndGlyphs" >50</text>
<line x1="186.2" y1="328.3" x2="189.6" y2="328.3" stroke="#1a1a1a" stroke-width="1"/>
<text x="183.7" y="331.1" font-size="8.2" text-anchor="end" font-weight="normal" fill="#1a1a1a" textLength="4.25" lengthAdjust="spacingAndGlyphs" >0</text>
<line x1="188.0" y1="324.97" x2="189.6" y2="324.97" stroke="#1a1a1a" stroke-width="0.8"/>
<line x1="188.0" y1="321.63" x2="189.6" y2="321.63" stroke="#1a1a1a" stroke-width="0.8"/>
<line x1="188.0" y1="318.3" x2="189.6" y2="318.3" stroke="#1a1a1a" stroke-width="0.8"/>
<line x1="188.0" y1="314.97" x2="189.6" y2="314.97" stroke="#1a1a1a" stroke-width="0.8"/>
<line x1="188.0" y1="308.3" x2="189.6" y2="308.3" stroke="#1a1a1a" stroke-width="0.8"/>
<line x1="188.0" y1="304.97" x2="189.6" y2="304.97" stroke="#1a1a1a" stroke-width="0.8"/>
<line x1="188.0" y1="301.63" x2="189.6" y2="301.63" stroke="#1a1a1a" stroke-width="0.8"/>
<line x1="188.0" y1="298.3" x2="189.6" y2="298.3" stroke="#1a1a1a" stroke-width="0.8"/>
<line x1="188.0" y1="291.63" x2="189.6" y2="291.63" stroke="#1a1a1a" stroke-width="0.8"/>
<line x1="188.0" y1="288.3" x2="189.6" y2="288.3" stroke="#1a1a1a" stroke-width="0.8"/>
<line x1="188.0" y1="284.97" x2="189.6" y2="284.97" stroke="#1a1a1a" stroke-width="0.8"/>
<line x1="188.0" y1="281.63" x2="189.6" y2="281.63" stroke="#1a1a1a" stroke-width="0.8"/>
<line x1="188.0" y1="274.97" x2="189.6" y2="274.97" stroke="#1a1a1a" stroke-width="0.8"/>
<line x1="188.0" y1="271.63" x2="189.6" y2="271.63" stroke="#1a1a1a" stroke-width="0.8"/>
<line x1="190.6" y1="329.8" x2="247.9" y2="329.8" stroke="#1a1a1a" stroke-width="1.1"/>
<line x1="192.4" y1="329.5" x2="192.4" y2="331.7" stroke="#1a1a1a" stroke-width="1"/>
<line x1="202.7" y1="329.5" x2="202.7" y2="331.7" stroke="#1a1a1a" stroke-width="1"/>
<line x1="213.3" y1="329.5" x2="213.3" y2="331.7" stroke="#1a1a1a" stroke-width="1"/>
<line x1="230.1" y1="329.5" x2="230.1" y2="331.7" stroke="#1a1a1a" stroke-width="1"/>
<line x1="244.1" y1="329.5" x2="244.1" y2="331.7" stroke="#1a1a1a" stroke-width="1"/>
<line x1="218.36" y1="329.5" x2="218.36" y2="331.1" stroke="#1a1a1a" stroke-width="0.8"/>
<line x1="221.32" y1="329.5" x2="221.32" y2="331.1" stroke="#1a1a1a" stroke-width="0.8"/>
<line x1="223.41" y1="329.5" x2="223.41" y2="331.1" stroke="#1a1a1a" stroke-width="0.8"/>
<line x1="225.04" y1="329.5" x2="225.04" y2="331.1" stroke="#1a1a1a" stroke-width="0.8"/>
<line x1="226.37" y1="329.5" x2="226.37" y2="331.1" stroke="#1a1a1a" stroke-width="0.8"/>
<line x1="227.5" y1="329.5" x2="227.5" y2="331.1" stroke="#1a1a1a" stroke-width="0.8"/>
<line x1="228.47" y1="329.5" x2="228.47" y2="331.1" stroke="#1a1a1a" stroke-width="0.8"/>
<line x1="229.33" y1="329.5" x2="229.33" y2="331.1" stroke="#1a1a1a" stroke-width="0.8"/>
<line x1="234.31" y1="329.5" x2="234.31" y2="331.1" stroke="#1a1a1a" stroke-width="0.8"/>
<line x1="236.78" y1="329.5" x2="236.78" y2="331.1" stroke="#1a1a1a" stroke-width="0.8"/>
<line x1="238.53" y1="329.5" x2="238.53" y2="331.1" stroke="#1a1a1a" stroke-width="0.8"/>
<line x1="239.89" y1="329.5" x2="239.89" y2="331.1" stroke="#1a1a1a" stroke-width="0.8"/>
<line x1="240.99" y1="329.5" x2="240.99" y2="331.1" stroke="#1a1a1a" stroke-width="0.8"/>
<line x1="241.93" y1="329.5" x2="241.93" y2="331.1" stroke="#1a1a1a" stroke-width="0.8"/>
<line x1="242.74" y1="329.5" x2="242.74" y2="331.1" stroke="#1a1a1a" stroke-width="0.8"/>
<line x1="243.46" y1="329.5" x2="243.46" y2="331.1" stroke="#1a1a1a" stroke-width="0.8"/>
<line x1="194.46" y1="329.5" x2="194.46" y2="331.1" stroke="#1a1a1a" stroke-width="0.8"/>
<line x1="196.52" y1="329.5" x2="196.52" y2="331.1" stroke="#1a1a1a" stroke-width="0.8"/>
<line x1="198.58" y1="329.5" x2="198.58" y2="331.1" stroke="#1a1a1a" stroke-width="0.8"/>
<line x1="200.64" y1="329.5" x2="200.64" y2="331.1" stroke="#1a1a1a" stroke-width="0.8"/>
<line x1="204.82" y1="329.5" x2="204.82" y2="331.1" stroke="#1a1a1a" stroke-width="0.8"/>
<line x1="206.94" y1="329.5" x2="206.94" y2="331.1" stroke="#1a1a1a" stroke-width="0.8"/>
<line x1="209.06" y1="329.5" x2="209.06" y2="331.1" stroke="#1a1a1a" stroke-width="0.8"/>
<line x1="211.18" y1="329.5" x2="211.18" y2="331.1" stroke="#1a1a1a" stroke-width="0.8"/>
<text x="185.7" y="340.9" font-size="7.2" fill="#1a1a1a">-10<tspan font-size="5" dy="-2.6">3</tspan></text>
<text x="200.7" y="340.9" font-size="7.2" text-anchor="start" font-weight="normal" fill="#1a1a1a" >0</text>
<text x="208.1" y="340.9" font-size="7.2" fill="#1a1a1a">10<tspan font-size="5" dy="-2.6">3</tspan></text>
<text x="224.6" y="340.9" font-size="7.2" fill="#1a1a1a">10<tspan font-size="5" dy="-2.6">4</tspan></text>
<text x="238.1" y="340.9" font-size="7.2" fill="#1a1a1a">10<tspan font-size="5" dy="-2.6">5</tspan></text>
<line x1="217.5" y1="302" x2="248.9" y2="302" stroke="#1a1a1a" stroke-width="1.05"/>
<rect x="216.9" y="301.1" width="1.5" height="1.8" fill="#1a1a1a"/>
<text x="224" y="290.0" font-size="8.8" text-anchor="start" font-weight="normal" fill="#1a1a1a" textLength="15.0" lengthAdjust="spacingAndGlyphs" >8.96</text>
<polygon points="283.1,328.5 284.4,322.5 285.6,312.5 286.9,297.5 287.75,285 288.5,281 289,283.75 289.75,293.75 290.6,295.6 291.9,295 292.5,298.1 293.5,302.5 294.75,304.4 295.6,306.25 296.9,308.1 298.1,309.4 299.4,310 300.6,311.9 302.25,313.75 303.1,314.4 304.4,311.25 305.6,308.1 306.5,305.6 307.75,305 309,303.1 310,297.5 310.6,300 311.5,303.1 312.5,305 313.5,307.5 314.4,311.25 315.6,317.5 316.9,321.9 318.1,325 320,327.3 322,328.5" fill="#e0e0e2" stroke="#c2c2c6" stroke-width="0.6"/>
<rect x="270.2" y="269" width="60.400000000000034" height="59.5" fill="none" stroke="#111" stroke-width="1.25"/>
<line x1="266.8" y1="274.5" x2="270.2" y2="274.5" stroke="#1a1a1a" stroke-width="1"/>
<text x="264.3" y="277.3" font-size="8.2" text-anchor="end" font-weight="normal" fill="#1a1a1a" textLength="12.75" lengthAdjust="spacingAndGlyphs" >100</text>
<line x1="266.8" y1="285.26" x2="270.2" y2="285.26" stroke="#1a1a1a" stroke-width="1"/>
<text x="264.3" y="288.06" font-size="8.2" text-anchor="end" font-weight="normal" fill="#1a1a1a" textLength="8.5" lengthAdjust="spacingAndGlyphs" >80</text>
<line x1="266.8" y1="296.02" x2="270.2" y2="296.02" stroke="#1a1a1a" stroke-width="1"/>
<text x="264.3" y="298.82" font-size="8.2" text-anchor="end" font-weight="normal" fill="#1a1a1a" textLength="8.5" lengthAdjust="spacingAndGlyphs" >60</text>
<line x1="266.8" y1="306.78" x2="270.2" y2="306.78" stroke="#1a1a1a" stroke-width="1"/>
<text x="264.3" y="309.58" font-size="8.2" text-anchor="end" font-weight="normal" fill="#1a1a1a" textLength="8.5" lengthAdjust="spacingAndGlyphs" >40</text>
<line x1="266.8" y1="317.54" x2="270.2" y2="317.54" stroke="#1a1a1a" stroke-width="1"/>
<text x="264.3" y="320.34" font-size="8.2" text-anchor="end" font-weight="normal" fill="#1a1a1a" textLength="8.5" lengthAdjust="spacingAndGlyphs" >20</text>
<line x1="266.8" y1="328.3" x2="270.2" y2="328.3" stroke="#1a1a1a" stroke-width="1"/>
<text x="264.3" y="331.1" font-size="8.2" text-anchor="end" font-weight="normal" fill="#1a1a1a" textLength="4.25" lengthAdjust="spacingAndGlyphs" >0</text>
<line x1="268.6" y1="325.61" x2="270.2" y2="325.61" stroke="#1a1a1a" stroke-width="0.8"/>
<line x1="268.6" y1="322.92" x2="270.2" y2="322.92" stroke="#1a1a1a" stroke-width="0.8"/>
<line x1="268.6" y1="320.23" x2="270.2" y2="320.23" stroke="#1a1a1a" stroke-width="0.8"/>
<line x1="268.6" y1="314.85" x2="270.2" y2="314.85" stroke="#1a1a1a" stroke-width="0.8"/>
<line x1="268.6" y1="312.16" x2="270.2" y2="312.16" stroke="#1a1a1a" stroke-width="0.8"/>
<line x1="268.6" y1="309.47" x2="270.2" y2="309.47" stroke="#1a1a1a" stroke-width="0.8"/>
<line x1="268.6" y1="304.09" x2="270.2" y2="304.09" stroke="#1a1a1a" stroke-width="0.8"/>
<line x1="268.6" y1="301.4" x2="270.2" y2="301.4" stroke="#1a1a1a" stroke-width="0.8"/>
<line x1="268.6" y1="298.71" x2="270.2" y2="298.71" stroke="#1a1a1a" stroke-width="0.8"/>
<line x1="268.6" y1="293.33" x2="270.2" y2="293.33" stroke="#1a1a1a" stroke-width="0.8"/>
<line x1="268.6" y1="290.64" x2="270.2" y2="290.64" stroke="#1a1a1a" stroke-width="0.8"/>
<line x1="268.6" y1="287.95" x2="270.2" y2="287.95" stroke="#1a1a1a" stroke-width="0.8"/>
<line x1="268.6" y1="282.57" x2="270.2" y2="282.57" stroke="#1a1a1a" stroke-width="0.8"/>
<line x1="268.6" y1="279.88" x2="270.2" y2="279.88" stroke="#1a1a1a" stroke-width="0.8"/>
<line x1="268.6" y1="277.19" x2="270.2" y2="277.19" stroke="#1a1a1a" stroke-width="0.8"/>
<line x1="268.6" y1="271.81" x2="270.2" y2="271.81" stroke="#1a1a1a" stroke-width="0.8"/>
<line x1="271.2" y1="329.8" x2="329.6" y2="329.8" stroke="#1a1a1a" stroke-width="1.1"/>
<line x1="273.0" y1="329.5" x2="273.0" y2="331.7" stroke="#1a1a1a" stroke-width="1"/>
<line x1="283.3" y1="329.5" x2="283.3" y2="331.7" stroke="#1a1a1a" stroke-width="1"/>
<line x1="293.9" y1="329.5" x2="293.9" y2="331.7" stroke="#1a1a1a" stroke-width="1"/>
<line x1="310.7" y1="329.5" x2="310.7" y2="331.7" stroke="#1a1a1a" stroke-width="1"/>
<line x1="324.7" y1="329.5" x2="324.7" y2="331.7" stroke="#1a1a1a" stroke-width="1"/>
<line x1="298.96" y1="329.5" x2="298.96" y2="331.1" stroke="#1a1a1a" stroke-width="0.8"/>
<line x1="301.92" y1="329.5" x2="301.92" y2="331.1" stroke="#1a1a1a" stroke-width="0.8"/>
<line x1="304.01" y1="329.5" x2="304.01" y2="331.1" stroke="#1a1a1a" stroke-width="0.8"/>
<line x1="305.64" y1="329.5" x2="305.64" y2="331.1" stroke="#1a1a1a" stroke-width="0.8"/>
<line x1="306.97" y1="329.5" x2="306.97" y2="331.1" stroke="#1a1a1a" stroke-width="0.8"/>
<line x1="308.1" y1="329.5" x2="308.1" y2="331.1" stroke="#1a1a1a" stroke-width="0.8"/>
<line x1="309.07" y1="329.5" x2="309.07" y2="331.1" stroke="#1a1a1a" stroke-width="0.8"/>
<line x1="309.93" y1="329.5" x2="309.93" y2="331.1" stroke="#1a1a1a" stroke-width="0.8"/>
<line x1="314.91" y1="329.5" x2="314.91" y2="331.1" stroke="#1a1a1a" stroke-width="0.8"/>
<line x1="317.38" y1="329.5" x2="317.38" y2="331.1" stroke="#1a1a1a" stroke-width="0.8"/>
<line x1="319.13" y1="329.5" x2="319.13" y2="331.1" stroke="#1a1a1a" stroke-width="0.8"/>
<line x1="320.49" y1="329.5" x2="320.49" y2="331.1" stroke="#1a1a1a" stroke-width="0.8"/>
<line x1="321.59" y1="329.5" x2="321.59" y2="331.1" stroke="#1a1a1a" stroke-width="0.8"/>
<line x1="322.53" y1="329.5" x2="322.53" y2="331.1" stroke="#1a1a1a" stroke-width="0.8"/>
<line x1="323.34" y1="329.5" x2="323.34" y2="331.1" stroke="#1a1a1a" stroke-width="0.8"/>
<line x1="324.06" y1="329.5" x2="324.06" y2="331.1" stroke="#1a1a1a" stroke-width="0.8"/>
<line x1="275.06" y1="329.5" x2="275.06" y2="331.1" stroke="#1a1a1a" stroke-width="0.8"/>
<line x1="277.12" y1="329.5" x2="277.12" y2="331.1" stroke="#1a1a1a" stroke-width="0.8"/>
<line x1="279.18" y1="329.5" x2="279.18" y2="331.1" stroke="#1a1a1a" stroke-width="0.8"/>
<line x1="281.24" y1="329.5" x2="281.24" y2="331.1" stroke="#1a1a1a" stroke-width="0.8"/>
<line x1="285.42" y1="329.5" x2="285.42" y2="331.1" stroke="#1a1a1a" stroke-width="0.8"/>
<line x1="287.54" y1="329.5" x2="287.54" y2="331.1" stroke="#1a1a1a" stroke-width="0.8"/>
<line x1="289.66" y1="329.5" x2="289.66" y2="331.1" stroke="#1a1a1a" stroke-width="0.8"/>
<line x1="291.78" y1="329.5" x2="291.78" y2="331.1" stroke="#1a1a1a" stroke-width="0.8"/>
<text x="266.3" y="340.9" font-size="7.2" fill="#1a1a1a">-10<tspan font-size="5" dy="-2.6">3</tspan></text>
<text x="281.3" y="340.9" font-size="7.2" text-anchor="start" font-weight="normal" fill="#1a1a1a" >0</text>
<text x="288.7" y="340.9" font-size="7.2" fill="#1a1a1a">10<tspan font-size="5" dy="-2.6">3</tspan></text>
<text x="305.2" y="340.9" font-size="7.2" fill="#1a1a1a">10<tspan font-size="5" dy="-2.6">4</tspan></text>
<text x="318.7" y="340.9" font-size="7.2" fill="#1a1a1a">10<tspan font-size="5" dy="-2.6">5</tspan></text>
<line x1="299.4" y1="302" x2="330.6" y2="302" stroke="#1a1a1a" stroke-width="1.05"/>
<rect x="298.79999999999995" y="301.1" width="1.5" height="1.8" fill="#1a1a1a"/>
<text x="304" y="290.0" font-size="8.8" text-anchor="start" font-weight="normal" fill="#1a1a1a" textLength="15.0" lengthAdjust="spacingAndGlyphs" >48.9</text>
<polygon points="39.3,405.8 40,382.4 40.7,360.5 41.5,353.3 42.2,354.7 42.6,367.8 43.3,382.4 44.4,392.5 45.8,398.4 48,402 50.9,403.9 58.2,404.4 62,403.6 64,403 66.9,404.4 70,405.8" fill="#e0e0e2" stroke="#c2c2c6" stroke-width="0.6"/>
<rect x="25.7" y="346.3" width="59.8" height="59.5" fill="none" stroke="#111" stroke-width="1.25"/>
<line x1="22.3" y1="360.5" x2="25.7" y2="360.5" stroke="#1a1a1a" stroke-width="1"/>
<text x="19.8" y="363.3" font-size="8.2" text-anchor="end" font-weight="normal" fill="#1a1a1a" textLength="12.75" lengthAdjust="spacingAndGlyphs" >150</text>
<line x1="22.3" y1="375.53" x2="25.7" y2="375.53" stroke="#1a1a1a" stroke-width="1"/>
<text x="19.8" y="378.33" font-size="8.2" text-anchor="end" font-weight="normal" fill="#1a1a1a" textLength="12.75" lengthAdjust="spacingAndGlyphs" >100</text>
<line x1="22.3" y1="390.57" x2="25.7" y2="390.57" stroke="#1a1a1a" stroke-width="1"/>
<text x="19.8" y="393.37" font-size="8.2" text-anchor="end" font-weight="normal" fill="#1a1a1a" textLength="8.5" lengthAdjust="spacingAndGlyphs" >50</text>
<line x1="22.3" y1="405.6" x2="25.7" y2="405.6" stroke="#1a1a1a" stroke-width="1"/>
<text x="19.8" y="408.4" font-size="8.2" text-anchor="end" font-weight="normal" fill="#1a1a1a" textLength="4.25" lengthAdjust="spacingAndGlyphs" >0</text>
<line x1="24.1" y1="402.59" x2="25.7" y2="402.59" stroke="#1a1a1a" stroke-width="0.8"/>
<line x1="24.1" y1="399.59" x2="25.7" y2="399.59" stroke="#1a1a1a" stroke-width="0.8"/>
<line x1="24.1" y1="396.58" x2="25.7" y2="396.58" stroke="#1a1a1a" stroke-width="0.8"/>
<line x1="24.1" y1="393.57" x2="25.7" y2="393.57" stroke="#1a1a1a" stroke-width="0.8"/>
<line x1="24.1" y1="387.56" x2="25.7" y2="387.56" stroke="#1a1a1a" stroke-width="0.8"/>
<line x1="24.1" y1="384.55" x2="25.7" y2="384.55" stroke="#1a1a1a" stroke-width="0.8"/>
<line x1="24.1" y1="381.55" x2="25.7" y2="381.55" stroke="#1a1a1a" stroke-width="0.8"/>
<line x1="24.1" y1="378.54" x2="25.7" y2="378.54" stroke="#1a1a1a" stroke-width="0.8"/>
<line x1="24.1" y1="372.53" x2="25.7" y2="372.53" stroke="#1a1a1a" stroke-width="0.8"/>
<line x1="24.1" y1="369.52" x2="25.7" y2="369.52" stroke="#1a1a1a" stroke-width="0.8"/>
<line x1="24.1" y1="366.51" x2="25.7" y2="366.51" stroke="#1a1a1a" stroke-width="0.8"/>
<line x1="24.1" y1="363.51" x2="25.7" y2="363.51" stroke="#1a1a1a" stroke-width="0.8"/>
<line x1="24.1" y1="357.49" x2="25.7" y2="357.49" stroke="#1a1a1a" stroke-width="0.8"/>
<line x1="24.1" y1="354.49" x2="25.7" y2="354.49" stroke="#1a1a1a" stroke-width="0.8"/>
<line x1="24.1" y1="351.48" x2="25.7" y2="351.48" stroke="#1a1a1a" stroke-width="0.8"/>
<line x1="24.1" y1="348.47" x2="25.7" y2="348.47" stroke="#1a1a1a" stroke-width="0.8"/>
<line x1="26.7" y1="407.1" x2="84.5" y2="407.1" stroke="#1a1a1a" stroke-width="1.1"/>
<line x1="28.5" y1="406.8" x2="28.5" y2="409.0" stroke="#1a1a1a" stroke-width="1"/>
<line x1="38.8" y1="406.8" x2="38.8" y2="409.0" stroke="#1a1a1a" stroke-width="1"/>
<line x1="49.4" y1="406.8" x2="49.4" y2="409.0" stroke="#1a1a1a" stroke-width="1"/>
<line x1="66.2" y1="406.8" x2="66.2" y2="409.0" stroke="#1a1a1a" stroke-width="1"/>
<line x1="80.2" y1="406.8" x2="80.2" y2="409.0" stroke="#1a1a1a" stroke-width="1"/>
<line x1="54.46" y1="406.8" x2="54.46" y2="408.4" stroke="#1a1a1a" stroke-width="0.8"/>
<line x1="57.42" y1="406.8" x2="57.42" y2="408.4" stroke="#1a1a1a" stroke-width="0.8"/>
<line x1="59.51" y1="406.8" x2="59.51" y2="408.4" stroke="#1a1a1a" stroke-width="0.8"/>
<line x1="61.14" y1="406.8" x2="61.14" y2="408.4" stroke="#1a1a1a" stroke-width="0.8"/>
<line x1="62.47" y1="406.8" x2="62.47" y2="408.4" stroke="#1a1a1a" stroke-width="0.8"/>
<line x1="63.6" y1="406.8" x2="63.6" y2="408.4" stroke="#1a1a1a" stroke-width="0.8"/>
<line x1="64.57" y1="406.8" x2="64.57" y2="408.4" stroke="#1a1a1a" stroke-width="0.8"/>
<line x1="65.43" y1="406.8" x2="65.43" y2="408.4" stroke="#1a1a1a" stroke-width="0.8"/>
<line x1="70.41" y1="406.8" x2="70.41" y2="408.4" stroke="#1a1a1a" stroke-width="0.8"/>
<line x1="72.88" y1="406.8" x2="72.88" y2="408.4" stroke="#1a1a1a" stroke-width="0.8"/>
<line x1="74.63" y1="406.8" x2="74.63" y2="408.4" stroke="#1a1a1a" stroke-width="0.8"/>
<line x1="75.99" y1="406.8" x2="75.99" y2="408.4" stroke="#1a1a1a" stroke-width="0.8"/>
<line x1="77.09" y1="406.8" x2="77.09" y2="408.4" stroke="#1a1a1a" stroke-width="0.8"/>
<line x1="78.03" y1="406.8" x2="78.03" y2="408.4" stroke="#1a1a1a" stroke-width="0.8"/>
<line x1="78.84" y1="406.8" x2="78.84" y2="408.4" stroke="#1a1a1a" stroke-width="0.8"/>
<line x1="79.56" y1="406.8" x2="79.56" y2="408.4" stroke="#1a1a1a" stroke-width="0.8"/>
<line x1="30.56" y1="406.8" x2="30.56" y2="408.4" stroke="#1a1a1a" stroke-width="0.8"/>
<line x1="32.62" y1="406.8" x2="32.62" y2="408.4" stroke="#1a1a1a" stroke-width="0.8"/>
<line x1="34.68" y1="406.8" x2="34.68" y2="408.4" stroke="#1a1a1a" stroke-width="0.8"/>
<line x1="36.74" y1="406.8" x2="36.74" y2="408.4" stroke="#1a1a1a" stroke-width="0.8"/>
<line x1="40.92" y1="406.8" x2="40.92" y2="408.4" stroke="#1a1a1a" stroke-width="0.8"/>
<line x1="43.04" y1="406.8" x2="43.04" y2="408.4" stroke="#1a1a1a" stroke-width="0.8"/>
<line x1="45.16" y1="406.8" x2="45.16" y2="408.4" stroke="#1a1a1a" stroke-width="0.8"/>
<line x1="47.28" y1="406.8" x2="47.28" y2="408.4" stroke="#1a1a1a" stroke-width="0.8"/>
<text x="21.8" y="418.2" font-size="7.2" fill="#1a1a1a">-10<tspan font-size="5" dy="-2.6">3</tspan></text>
<text x="36.8" y="418.2" font-size="7.2" text-anchor="start" font-weight="normal" fill="#1a1a1a" >0</text>
<text x="44.2" y="418.2" font-size="7.2" fill="#1a1a1a">10<tspan font-size="5" dy="-2.6">3</tspan></text>
<text x="60.7" y="418.2" font-size="7.2" fill="#1a1a1a">10<tspan font-size="5" dy="-2.6">4</tspan></text>
<text x="74.2" y="418.2" font-size="7.2" fill="#1a1a1a">10<tspan font-size="5" dy="-2.6">5</tspan></text>
<line x1="54.2" y1="379.3" x2="85.5" y2="379.3" stroke="#1a1a1a" stroke-width="1.05"/>
<rect x="53.6" y="378.40000000000003" width="1.5" height="1.8" fill="#1a1a1a"/>
<text x="60" y="367.6" font-size="8.8" text-anchor="start" font-weight="normal" fill="#1a1a1a" textLength="15.0" lengthAdjust="spacingAndGlyphs" >9.13</text>
<polygon points="120.8,407.4 121.5,390.3 122.2,369.2 122.9,358.2 123.6,358.6 124,369.2 124.6,380.4 125.4,388.9 126.4,394.5 127.8,398.8 129.9,402.3 132.7,404.4 137,405.3 141.2,405.2 144,404.6 147.6,404.1 151.1,404.8 153.9,405.8 156,407.4" fill="#e0e0e2" stroke="#c2c2c6" stroke-width="0.6"/>
<rect x="107.0" y="347.7" width="60.30000000000001" height="59.69999999999999" fill="none" stroke="#111" stroke-width="1.25"/>
<line x1="103.6" y1="350.0" x2="107.0" y2="350.0" stroke="#1a1a1a" stroke-width="1"/>
<text x="101.1" y="352.8" font-size="8.2" text-anchor="end" font-weight="normal" fill="#1a1a1a" textLength="12.75" lengthAdjust="spacingAndGlyphs" >200</text>
<line x1="103.6" y1="364.3" x2="107.0" y2="364.3" stroke="#1a1a1a" stroke-width="1"/>
<text x="101.1" y="367.1" font-size="8.2" text-anchor="end" font-weight="normal" fill="#1a1a1a" textLength="12.75" lengthAdjust="spacingAndGlyphs" >150</text>
<line x1="103.6" y1="378.6" x2="107.0" y2="378.6" stroke="#1a1a1a" stroke-width="1"/>
<text x="101.1" y="381.4" font-size="8.2" text-anchor="end" font-weight="normal" fill="#1a1a1a" textLength="12.75" lengthAdjust="spacingAndGlyphs" >100</text>
<line x1="103.6" y1="392.9" x2="107.0" y2="392.9" stroke="#1a1a1a" stroke-width="1"/>
<text x="101.1" y="395.7" font-size="8.2" text-anchor="end" font-weight="normal" fill="#1a1a1a" textLength="8.5" lengthAdjust="spacingAndGlyphs" >50</text>
<line x1="103.6" y1="407.2" x2="107.0" y2="407.2" stroke="#1a1a1a" stroke-width="1"/>
<text x="101.1" y="410.0" font-size="8.2" text-anchor="end" font-weight="normal" fill="#1a1a1a" textLength="4.25" lengthAdjust="spacingAndGlyphs" >0</text>
<line x1="105.4" y1="405.16" x2="107.0" y2="405.16" stroke="#1a1a1a" stroke-width="0.8"/>
<line x1="105.4" y1="403.11" x2="107.0" y2="403.11" stroke="#1a1a1a" stroke-width="0.8"/>
<line x1="105.4" y1="401.07" x2="107.0" y2="401.07" stroke="#1a1a1a" stroke-width="0.8"/>
<line x1="105.4" y1="399.03" x2="107.0" y2="399.03" stroke="#1a1a1a" stroke-width="0.8"/>
<line x1="105.4" y1="396.99" x2="107.0" y2="396.99" stroke="#1a1a1a" stroke-width="0.8"/>
<line x1="105.4" y1="394.94" x2="107.0" y2="394.94" stroke="#1a1a1a" stroke-width="0.8"/>
<line x1="105.4" y1="390.86" x2="107.0" y2="390.86" stroke="#1a1a1a" stroke-width="0.8"/>
<line x1="105.4" y1="388.81" x2="107.0" y2="388.81" stroke="#1a1a1a" stroke-width="0.8"/>
<line x1="105.4" y1="386.77" x2="107.0" y2="386.77" stroke="#1a1a1a" stroke-width="0.8"/>
<line x1="105.4" y1="384.73" x2="107.0" y2="384.73" stroke="#1a1a1a" stroke-width="0.8"/>
<line x1="105.4" y1="382.69" x2="107.0" y2="382.69" stroke="#1a1a1a" stroke-width="0.8"/>
<line x1="105.4" y1="380.64" x2="107.0" y2="380.64" stroke="#1a1a1a" stroke-width="0.8"/>
<line x1="105.4" y1="376.56" x2="107.0" y2="376.56" stroke="#1a1a1a" stroke-width="0.8"/>
<line x1="105.4" y1="374.51" x2="107.0" y2="374.51" stroke="#1a1a1a" stroke-width="0.8"/>
<line x1="105.4" y1="372.47" x2="107.0" y2="372.47" stroke="#1a1a1a" stroke-width="0.8"/>
<line x1="105.4" y1="370.43" x2="107.0" y2="370.43" stroke="#1a1a1a" stroke-width="0.8"/>
<line x1="105.4" y1="368.39" x2="107.0" y2="368.39" stroke="#1a1a1a" stroke-width="0.8"/>
<line x1="105.4" y1="366.34" x2="107.0" y2="366.34" stroke="#1a1a1a" stroke-width="0.8"/>
<line x1="105.4" y1="362.26" x2="107.0" y2="362.26" stroke="#1a1a1a" stroke-width="0.8"/>
<line x1="105.4" y1="360.21" x2="107.0" y2="360.21" stroke="#1a1a1a" stroke-width="0.8"/>
<line x1="105.4" y1="358.17" x2="107.0" y2="358.17" stroke="#1a1a1a" stroke-width="0.8"/>
<line x1="105.4" y1="356.13" x2="107.0" y2="356.13" stroke="#1a1a1a" stroke-width="0.8"/>
<line x1="105.4" y1="354.09" x2="107.0" y2="354.09" stroke="#1a1a1a" stroke-width="0.8"/>
<line x1="105.4" y1="352.04" x2="107.0" y2="352.04" stroke="#1a1a1a" stroke-width="0.8"/>
<line x1="108.0" y1="408.7" x2="166.3" y2="408.7" stroke="#1a1a1a" stroke-width="1.1"/>
<line x1="109.8" y1="408.4" x2="109.8" y2="410.6" stroke="#1a1a1a" stroke-width="1"/>
<line x1="120.1" y1="408.4" x2="120.1" y2="410.6" stroke="#1a1a1a" stroke-width="1"/>
<line x1="130.7" y1="408.4" x2="130.7" y2="410.6" stroke="#1a1a1a" stroke-width="1"/>
<line x1="147.5" y1="408.4" x2="147.5" y2="410.6" stroke="#1a1a1a" stroke-width="1"/>
<line x1="161.5" y1="408.4" x2="161.5" y2="410.6" stroke="#1a1a1a" stroke-width="1"/>
<line x1="135.76" y1="408.4" x2="135.76" y2="410.0" stroke="#1a1a1a" stroke-width="0.8"/>
<line x1="138.72" y1="408.4" x2="138.72" y2="410.0" stroke="#1a1a1a" stroke-width="0.8"/>
<line x1="140.81" y1="408.4" x2="140.81" y2="410.0" stroke="#1a1a1a" stroke-width="0.8"/>
<line x1="142.44" y1="408.4" x2="142.44" y2="410.0" stroke="#1a1a1a" stroke-width="0.8"/>
<line x1="143.77" y1="408.4" x2="143.77" y2="410.0" stroke="#1a1a1a" stroke-width="0.8"/>
<line x1="144.9" y1="408.4" x2="144.9" y2="410.0" stroke="#1a1a1a" stroke-width="0.8"/>
<line x1="145.87" y1="408.4" x2="145.87" y2="410.0" stroke="#1a1a1a" stroke-width="0.8"/>
<line x1="146.73" y1="408.4" x2="146.73" y2="410.0" stroke="#1a1a1a" stroke-width="0.8"/>
<line x1="151.71" y1="408.4" x2="151.71" y2="410.0" stroke="#1a1a1a" stroke-width="0.8"/>
<line x1="154.18" y1="408.4" x2="154.18" y2="410.0" stroke="#1a1a1a" stroke-width="0.8"/>
<line x1="155.93" y1="408.4" x2="155.93" y2="410.0" stroke="#1a1a1a" stroke-width="0.8"/>
<line x1="157.29" y1="408.4" x2="157.29" y2="410.0" stroke="#1a1a1a" stroke-width="0.8"/>
<line x1="158.39" y1="408.4" x2="158.39" y2="410.0" stroke="#1a1a1a" stroke-width="0.8"/>
<line x1="159.33" y1="408.4" x2="159.33" y2="410.0" stroke="#1a1a1a" stroke-width="0.8"/>
<line x1="160.14" y1="408.4" x2="160.14" y2="410.0" stroke="#1a1a1a" stroke-width="0.8"/>
<line x1="160.86" y1="408.4" x2="160.86" y2="410.0" stroke="#1a1a1a" stroke-width="0.8"/>
<line x1="111.86" y1="408.4" x2="111.86" y2="410.0" stroke="#1a1a1a" stroke-width="0.8"/>
<line x1="113.92" y1="408.4" x2="113.92" y2="410.0" stroke="#1a1a1a" stroke-width="0.8"/>
<line x1="115.98" y1="408.4" x2="115.98" y2="410.0" stroke="#1a1a1a" stroke-width="0.8"/>
<line x1="118.04" y1="408.4" x2="118.04" y2="410.0" stroke="#1a1a1a" stroke-width="0.8"/>
<line x1="122.22" y1="408.4" x2="122.22" y2="410.0" stroke="#1a1a1a" stroke-width="0.8"/>
<line x1="124.34" y1="408.4" x2="124.34" y2="410.0" stroke="#1a1a1a" stroke-width="0.8"/>
<line x1="126.46" y1="408.4" x2="126.46" y2="410.0" stroke="#1a1a1a" stroke-width="0.8"/>
<line x1="128.58" y1="408.4" x2="128.58" y2="410.0" stroke="#1a1a1a" stroke-width="0.8"/>
<text x="103.1" y="419.79999999999995" font-size="7.2" fill="#1a1a1a">-10<tspan font-size="5" dy="-2.6">3</tspan></text>
<text x="118.1" y="419.8" font-size="7.2" text-anchor="start" font-weight="normal" fill="#1a1a1a" >0</text>
<text x="125.5" y="419.79999999999995" font-size="7.2" fill="#1a1a1a">10<tspan font-size="5" dy="-2.6">3</tspan></text>
<text x="142.0" y="419.79999999999995" font-size="7.2" fill="#1a1a1a">10<tspan font-size="5" dy="-2.6">4</tspan></text>
<text x="155.5" y="419.79999999999995" font-size="7.2" fill="#1a1a1a">10<tspan font-size="5" dy="-2.6">5</tspan></text>
<line x1="136.2" y1="380.5" x2="167.3" y2="380.5" stroke="#1a1a1a" stroke-width="1.05"/>
<rect x="135.6" y="379.6" width="1.5" height="1.8" fill="#1a1a1a"/>
<text x="142.3" y="368.5" font-size="8.8" text-anchor="start" font-weight="normal" fill="#1a1a1a" textLength="15.0" lengthAdjust="spacingAndGlyphs" >9.10</text>
<polygon points="202.6,408.5 203.5,385 204.3,365.2 205.3,359.3 206.6,361.9 207.9,369.1 209.2,377 210.5,385 211.8,391.5 213.6,397.5 215.1,401.4 217.1,404.1 219.1,405.4 221.1,405 222.4,402.1 224.1,399.7 226.3,397.5 228.3,396.2 229.6,398.1 231,402.1 232.5,404.7 233.9,406.8 235,408.5" fill="#e0e0e2" stroke="#c2c2c6" stroke-width="0.6"/>
<rect x="189.6" y="349" width="59.30000000000001" height="59.5" fill="none" stroke="#111" stroke-width="1.25"/>
<line x1="186.2" y1="349.7" x2="189.6" y2="349.7" stroke="#1a1a1a" stroke-width="1"/>
<text x="183.7" y="352.5" font-size="8.2" text-anchor="end" font-weight="normal" fill="#1a1a1a" textLength="12.75" lengthAdjust="spacingAndGlyphs" >100</text>
<line x1="186.2" y1="361.42" x2="189.6" y2="361.42" stroke="#1a1a1a" stroke-width="1"/>
<text x="183.7" y="364.22" font-size="8.2" text-anchor="end" font-weight="normal" fill="#1a1a1a" textLength="8.5" lengthAdjust="spacingAndGlyphs" >80</text>
<line x1="186.2" y1="373.14" x2="189.6" y2="373.14" stroke="#1a1a1a" stroke-width="1"/>
<text x="183.7" y="375.94" font-size="8.2" text-anchor="end" font-weight="normal" fill="#1a1a1a" textLength="8.5" lengthAdjust="spacingAndGlyphs" >60</text>
<line x1="186.2" y1="384.86" x2="189.6" y2="384.86" stroke="#1a1a1a" stroke-width="1"/>
<text x="183.7" y="387.66" font-size="8.2" text-anchor="end" font-weight="normal" fill="#1a1a1a" textLength="8.5" lengthAdjust="spacingAndGlyphs" >40</text>
<line x1="186.2" y1="396.58" x2="189.6" y2="396.58" stroke="#1a1a1a" stroke-width="1"/>
<text x="183.7" y="399.38" font-size="8.2" text-anchor="end" font-weight="normal" fill="#1a1a1a" textLength="8.5" lengthAdjust="spacingAndGlyphs" >20</text>
<line x1="186.2" y1="408.3" x2="189.6" y2="408.3" stroke="#1a1a1a" stroke-width="1"/>
<text x="183.7" y="411.1" font-size="8.2" text-anchor="end" font-weight="normal" fill="#1a1a1a" textLength="4.25" lengthAdjust="spacingAndGlyphs" >0</text>
<line x1="188.0" y1="405.37" x2="189.6" y2="405.37" stroke="#1a1a1a" stroke-width="0.8"/>
<line x1="188.0" y1="402.44" x2="189.6" y2="402.44" stroke="#1a1a1a" stroke-width="0.8"/>
<line x1="188.0" y1="399.51" x2="189.6" y2="399.51" stroke="#1a1a1a" stroke-width="0.8"/>
<line x1="188.0" y1="393.65" x2="189.6" y2="393.65" stroke="#1a1a1a" stroke-width="0.8"/>
<line x1="188.0" y1="390.72" x2="189.6" y2="390.72" stroke="#1a1a1a" stroke-width="0.8"/>
<line x1="188.0" y1="387.79" x2="189.6" y2="387.79" stroke="#1a1a1a" stroke-width="0.8"/>
<line x1="188.0" y1="381.93" x2="189.6" y2="381.93" stroke="#1a1a1a" stroke-width="0.8"/>
<line x1="188.0" y1="379.0" x2="189.6" y2="379.0" stroke="#1a1a1a" stroke-width="0.8"/>
<line x1="188.0" y1="376.07" x2="189.6" y2="376.07" stroke="#1a1a1a" stroke-width="0.8"/>
<line x1="188.0" y1="370.21" x2="189.6" y2="370.21" stroke="#1a1a1a" stroke-width="0.8"/>
<line x1="188.0" y1="367.28" x2="189.6" y2="367.28" stroke="#1a1a1a" stroke-width="0.8"/>
<line x1="188.0" y1="364.35" x2="189.6" y2="364.35" stroke="#1a1a1a" stroke-width="0.8"/>
<line x1="188.0" y1="358.49" x2="189.6" y2="358.49" stroke="#1a1a1a" stroke-width="0.8"/>
<line x1="188.0" y1="355.56" x2="189.6" y2="355.56" stroke="#1a1a1a" stroke-width="0.8"/>
<line x1="188.0" y1="352.63" x2="189.6" y2="352.63" stroke="#1a1a1a" stroke-width="0.8"/>
<line x1="190.6" y1="409.8" x2="247.9" y2="409.8" stroke="#1a1a1a" stroke-width="1.1"/>
<line x1="192.4" y1="409.5" x2="192.4" y2="411.7" stroke="#1a1a1a" stroke-width="1"/>
<line x1="202.7" y1="409.5" x2="202.7" y2="411.7" stroke="#1a1a1a" stroke-width="1"/>
<line x1="213.3" y1="409.5" x2="213.3" y2="411.7" stroke="#1a1a1a" stroke-width="1"/>
<line x1="230.1" y1="409.5" x2="230.1" y2="411.7" stroke="#1a1a1a" stroke-width="1"/>
<line x1="244.1" y1="409.5" x2="244.1" y2="411.7" stroke="#1a1a1a" stroke-width="1"/>
<line x1="218.36" y1="409.5" x2="218.36" y2="411.1" stroke="#1a1a1a" stroke-width="0.8"/>
<line x1="221.32" y1="409.5" x2="221.32" y2="411.1" stroke="#1a1a1a" stroke-width="0.8"/>
<line x1="223.41" y1="409.5" x2="223.41" y2="411.1" stroke="#1a1a1a" stroke-width="0.8"/>
<line x1="225.04" y1="409.5" x2="225.04" y2="411.1" stroke="#1a1a1a" stroke-width="0.8"/>
<line x1="226.37" y1="409.5" x2="226.37" y2="411.1" stroke="#1a1a1a" stroke-width="0.8"/>
<line x1="227.5" y1="409.5" x2="227.5" y2="411.1" stroke="#1a1a1a" stroke-width="0.8"/>
<line x1="228.47" y1="409.5" x2="228.47" y2="411.1" stroke="#1a1a1a" stroke-width="0.8"/>
<line x1="229.33" y1="409.5" x2="229.33" y2="411.1" stroke="#1a1a1a" stroke-width="0.8"/>
<line x1="234.31" y1="409.5" x2="234.31" y2="411.1" stroke="#1a1a1a" stroke-width="0.8"/>
<line x1="236.78" y1="409.5" x2="236.78" y2="411.1" stroke="#1a1a1a" stroke-width="0.8"/>
<line x1="238.53" y1="409.5" x2="238.53" y2="411.1" stroke="#1a1a1a" stroke-width="0.8"/>
<line x1="239.89" y1="409.5" x2="239.89" y2="411.1" stroke="#1a1a1a" stroke-width="0.8"/>
<line x1="240.99" y1="409.5" x2="240.99" y2="411.1" stroke="#1a1a1a" stroke-width="0.8"/>
<line x1="241.93" y1="409.5" x2="241.93" y2="411.1" stroke="#1a1a1a" stroke-width="0.8"/>
<line x1="242.74" y1="409.5" x2="242.74" y2="411.1" stroke="#1a1a1a" stroke-width="0.8"/>
<line x1="243.46" y1="409.5" x2="243.46" y2="411.1" stroke="#1a1a1a" stroke-width="0.8"/>
<line x1="194.46" y1="409.5" x2="194.46" y2="411.1" stroke="#1a1a1a" stroke-width="0.8"/>
<line x1="196.52" y1="409.5" x2="196.52" y2="411.1" stroke="#1a1a1a" stroke-width="0.8"/>
<line x1="198.58" y1="409.5" x2="198.58" y2="411.1" stroke="#1a1a1a" stroke-width="0.8"/>
<line x1="200.64" y1="409.5" x2="200.64" y2="411.1" stroke="#1a1a1a" stroke-width="0.8"/>
<line x1="204.82" y1="409.5" x2="204.82" y2="411.1" stroke="#1a1a1a" stroke-width="0.8"/>
<line x1="206.94" y1="409.5" x2="206.94" y2="411.1" stroke="#1a1a1a" stroke-width="0.8"/>
<line x1="209.06" y1="409.5" x2="209.06" y2="411.1" stroke="#1a1a1a" stroke-width="0.8"/>
<line x1="211.18" y1="409.5" x2="211.18" y2="411.1" stroke="#1a1a1a" stroke-width="0.8"/>
<text x="185.7" y="420.9" font-size="7.2" fill="#1a1a1a">-10<tspan font-size="5" dy="-2.6">3</tspan></text>
<text x="200.7" y="420.9" font-size="7.2" text-anchor="start" font-weight="normal" fill="#1a1a1a" >0</text>
<text x="208.1" y="420.9" font-size="7.2" fill="#1a1a1a">10<tspan font-size="5" dy="-2.6">3</tspan></text>
<text x="224.6" y="420.9" font-size="7.2" fill="#1a1a1a">10<tspan font-size="5" dy="-2.6">4</tspan></text>
<text x="238.1" y="420.9" font-size="7.2" fill="#1a1a1a">10<tspan font-size="5" dy="-2.6">5</tspan></text>
<line x1="217.5" y1="382.1" x2="248.9" y2="382.1" stroke="#1a1a1a" stroke-width="1.05"/>
<rect x="216.9" y="381.20000000000005" width="1.5" height="1.8" fill="#1a1a1a"/>
<text x="223.3" y="371.1" font-size="8.8" text-anchor="start" font-weight="normal" fill="#1a1a1a" textLength="15.0" lengthAdjust="spacingAndGlyphs" >24.7</text>
<polygon points="283.3,408.5 284.6,395.5 285.5,378.4 286.3,362.5 286.9,357 287.6,361.9 288.6,363.9 289.5,369.1 290.8,375.7 292.1,381.7 293.2,383.6 294.2,386.3 295.2,389.6 296.5,390.9 297.8,392.2 299.1,394.2 300.4,394.8 301.8,394.2 303.5,393.9 305.7,393.5 307,390.2 307.9,386.3 309.7,385 311,383 312.3,382.1 313.6,385 314.9,388.9 316.3,392.9 317.6,398.1 318.9,402.8 320.9,406.6 322,408.5" fill="#e0e0e2" stroke="#c2c2c6" stroke-width="0.6"/>
<rect x="270.2" y="349" width="60.400000000000034" height="59.5" fill="none" stroke="#111" stroke-width="1.25"/>
<line x1="266.8" y1="354.5" x2="270.2" y2="354.5" stroke="#1a1a1a" stroke-width="1"/>
<text x="264.3" y="357.3" font-size="8.2" text-anchor="end" font-weight="normal" fill="#1a1a1a" textLength="12.75" lengthAdjust="spacingAndGlyphs" >100</text>
<line x1="266.8" y1="365.26" x2="270.2" y2="365.26" stroke="#1a1a1a" stroke-width="1"/>
<text x="264.3" y="368.06" font-size="8.2" text-anchor="end" font-weight="normal" fill="#1a1a1a" textLength="8.5" lengthAdjust="spacingAndGlyphs" >80</text>
<line x1="266.8" y1="376.02" x2="270.2" y2="376.02" stroke="#1a1a1a" stroke-width="1"/>
<text x="264.3" y="378.82" font-size="8.2" text-anchor="end" font-weight="normal" fill="#1a1a1a" textLength="8.5" lengthAdjust="spacingAndGlyphs" >60</text>
<line x1="266.8" y1="386.78" x2="270.2" y2="386.78" stroke="#1a1a1a" stroke-width="1"/>
<text x="264.3" y="389.58" font-size="8.2" text-anchor="end" font-weight="normal" fill="#1a1a1a" textLength="8.5" lengthAdjust="spacingAndGlyphs" >40</text>
<line x1="266.8" y1="397.54" x2="270.2" y2="397.54" stroke="#1a1a1a" stroke-width="1"/>
<text x="264.3" y="400.34" font-size="8.2" text-anchor="end" font-weight="normal" fill="#1a1a1a" textLength="8.5" lengthAdjust="spacingAndGlyphs" >20</text>
<line x1="266.8" y1="408.3" x2="270.2" y2="408.3" stroke="#1a1a1a" stroke-width="1"/>
<text x="264.3" y="411.1" font-size="8.2" text-anchor="end" font-weight="normal" fill="#1a1a1a" textLength="4.25" lengthAdjust="spacingAndGlyphs" >0</text>
<line x1="268.6" y1="405.61" x2="270.2" y2="405.61" stroke="#1a1a1a" stroke-width="0.8"/>
<line x1="268.6" y1="402.92" x2="270.2" y2="402.92" stroke="#1a1a1a" stroke-width="0.8"/>
<line x1="268.6" y1="400.23" x2="270.2" y2="400.23" stroke="#1a1a1a" stroke-width="0.8"/>
<line x1="268.6" y1="394.85" x2="270.2" y2="394.85" stroke="#1a1a1a" stroke-width="0.8"/>
<line x1="268.6" y1="392.16" x2="270.2" y2="392.16" stroke="#1a1a1a" stroke-width="0.8"/>
<line x1="268.6" y1="389.47" x2="270.2" y2="389.47" stroke="#1a1a1a" stroke-width="0.8"/>
<line x1="268.6" y1="384.09" x2="270.2" y2="384.09" stroke="#1a1a1a" stroke-width="0.8"/>
<line x1="268.6" y1="381.4" x2="270.2" y2="381.4" stroke="#1a1a1a" stroke-width="0.8"/>
<line x1="268.6" y1="378.71" x2="270.2" y2="378.71" stroke="#1a1a1a" stroke-width="0.8"/>
<line x1="268.6" y1="373.33" x2="270.2" y2="373.33" stroke="#1a1a1a" stroke-width="0.8"/>
<line x1="268.6" y1="370.64" x2="270.2" y2="370.64" stroke="#1a1a1a" stroke-width="0.8"/>
<line x1="268.6" y1="367.95" x2="270.2" y2="367.95" stroke="#1a1a1a" stroke-width="0.8"/>
<line x1="268.6" y1="362.57" x2="270.2" y2="362.57" stroke="#1a1a1a" stroke-width="0.8"/>
<line x1="268.6" y1="359.88" x2="270.2" y2="359.88" stroke="#1a1a1a" stroke-width="0.8"/>
<line x1="268.6" y1="357.19" x2="270.2" y2="357.19" stroke="#1a1a1a" stroke-width="0.8"/>
<line x1="268.6" y1="351.81" x2="270.2" y2="351.81" stroke="#1a1a1a" stroke-width="0.8"/>
<line x1="271.2" y1="409.8" x2="329.6" y2="409.8" stroke="#1a1a1a" stroke-width="1.1"/>
<line x1="273.0" y1="409.5" x2="273.0" y2="411.7" stroke="#1a1a1a" stroke-width="1"/>
<line x1="283.3" y1="409.5" x2="283.3" y2="411.7" stroke="#1a1a1a" stroke-width="1"/>
<line x1="293.9" y1="409.5" x2="293.9" y2="411.7" stroke="#1a1a1a" stroke-width="1"/>
<line x1="310.7" y1="409.5" x2="310.7" y2="411.7" stroke="#1a1a1a" stroke-width="1"/>
<line x1="324.7" y1="409.5" x2="324.7" y2="411.7" stroke="#1a1a1a" stroke-width="1"/>
<line x1="298.96" y1="409.5" x2="298.96" y2="411.1" stroke="#1a1a1a" stroke-width="0.8"/>
<line x1="301.92" y1="409.5" x2="301.92" y2="411.1" stroke="#1a1a1a" stroke-width="0.8"/>
<line x1="304.01" y1="409.5" x2="304.01" y2="411.1" stroke="#1a1a1a" stroke-width="0.8"/>
<line x1="305.64" y1="409.5" x2="305.64" y2="411.1" stroke="#1a1a1a" stroke-width="0.8"/>
<line x1="306.97" y1="409.5" x2="306.97" y2="411.1" stroke="#1a1a1a" stroke-width="0.8"/>
<line x1="308.1" y1="409.5" x2="308.1" y2="411.1" stroke="#1a1a1a" stroke-width="0.8"/>
<line x1="309.07" y1="409.5" x2="309.07" y2="411.1" stroke="#1a1a1a" stroke-width="0.8"/>
<line x1="309.93" y1="409.5" x2="309.93" y2="411.1" stroke="#1a1a1a" stroke-width="0.8"/>
<line x1="314.91" y1="409.5" x2="314.91" y2="411.1" stroke="#1a1a1a" stroke-width="0.8"/>
<line x1="317.38" y1="409.5" x2="317.38" y2="411.1" stroke="#1a1a1a" stroke-width="0.8"/>
<line x1="319.13" y1="409.5" x2="319.13" y2="411.1" stroke="#1a1a1a" stroke-width="0.8"/>
<line x1="320.49" y1="409.5" x2="320.49" y2="411.1" stroke="#1a1a1a" stroke-width="0.8"/>
<line x1="321.59" y1="409.5" x2="321.59" y2="411.1" stroke="#1a1a1a" stroke-width="0.8"/>
<line x1="322.53" y1="409.5" x2="322.53" y2="411.1" stroke="#1a1a1a" stroke-width="0.8"/>
<line x1="323.34" y1="409.5" x2="323.34" y2="411.1" stroke="#1a1a1a" stroke-width="0.8"/>
<line x1="324.06" y1="409.5" x2="324.06" y2="411.1" stroke="#1a1a1a" stroke-width="0.8"/>
<line x1="275.06" y1="409.5" x2="275.06" y2="411.1" stroke="#1a1a1a" stroke-width="0.8"/>
<line x1="277.12" y1="409.5" x2="277.12" y2="411.1" stroke="#1a1a1a" stroke-width="0.8"/>
<line x1="279.18" y1="409.5" x2="279.18" y2="411.1" stroke="#1a1a1a" stroke-width="0.8"/>
<line x1="281.24" y1="409.5" x2="281.24" y2="411.1" stroke="#1a1a1a" stroke-width="0.8"/>
<line x1="285.42" y1="409.5" x2="285.42" y2="411.1" stroke="#1a1a1a" stroke-width="0.8"/>
<line x1="287.54" y1="409.5" x2="287.54" y2="411.1" stroke="#1a1a1a" stroke-width="0.8"/>
<line x1="289.66" y1="409.5" x2="289.66" y2="411.1" stroke="#1a1a1a" stroke-width="0.8"/>
<line x1="291.78" y1="409.5" x2="291.78" y2="411.1" stroke="#1a1a1a" stroke-width="0.8"/>
<text x="266.3" y="420.9" font-size="7.2" fill="#1a1a1a">-10<tspan font-size="5" dy="-2.6">3</tspan></text>
<text x="281.3" y="420.9" font-size="7.2" text-anchor="start" font-weight="normal" fill="#1a1a1a" >0</text>
<text x="288.7" y="420.9" font-size="7.2" fill="#1a1a1a">10<tspan font-size="5" dy="-2.6">3</tspan></text>
<text x="305.2" y="420.9" font-size="7.2" fill="#1a1a1a">10<tspan font-size="5" dy="-2.6">4</tspan></text>
<text x="318.7" y="420.9" font-size="7.2" fill="#1a1a1a">10<tspan font-size="5" dy="-2.6">5</tspan></text>
<line x1="299.4" y1="382.1" x2="330.6" y2="382.1" stroke="#1a1a1a" stroke-width="1.05"/>
<rect x="298.79999999999995" y="381.20000000000005" width="1.5" height="1.8" fill="#1a1a1a"/>
<text x="303.9" y="371.1" font-size="8.8" text-anchor="start" font-weight="normal" fill="#1a1a1a" textLength="15.0" lengthAdjust="spacingAndGlyphs" >47.4</text>
<line x1="432.5" y1="239" x2="432.5" y2="336.7" stroke="#1a1a1a" stroke-width="1.1"/>
<line x1="432.5" y1="336.2" x2="480" y2="336.2" stroke="#1a1a1a" stroke-width="1.1"/>
<line x1="429.2" y1="336.2" x2="432.5" y2="336.2" stroke="#1a1a1a" stroke-width="1"/>
<text x="427.2" y="339.1" font-size="8.2" text-anchor="end" font-weight="normal" fill="#1a1a1a" >0</text>
<line x1="429.2" y1="297.4" x2="432.5" y2="297.4" stroke="#1a1a1a" stroke-width="1"/>
<text x="427.2" y="300.3" font-size="8.2" text-anchor="end" font-weight="normal" fill="#1a1a1a" >40</text>
<line x1="429.2" y1="258.6" x2="432.5" y2="258.6" stroke="#1a1a1a" stroke-width="1"/>
<text x="427.2" y="261.5" font-size="8.2" text-anchor="end" font-weight="normal" fill="#1a1a1a" >80</text>
<line x1="444.6" y1="336.2" x2="444.6" y2="339.4" stroke="#1a1a1a" stroke-width="1"/>
<line x1="468.5" y1="336.2" x2="468.5" y2="339.4" stroke="#1a1a1a" stroke-width="1"/>
<text transform="translate(411.6,287.5) rotate(-90)" font-size="8.8" text-anchor="middle" fill="#1a1a1a" textLength="40.6" lengthAdjust="spacingAndGlyphs">% apoptosis</text>
<line x1="446" y1="243.4" x2="466.5" y2="243.4" stroke="#222" stroke-width="1.2"/>
<text x="454.65" y="242.3" font-size="7" text-anchor="middle" font-weight="bold" fill="#222" class="st">*</text>
<text x="458.15" y="242.3" font-size="7" text-anchor="middle" font-weight="bold" fill="#222" class="st">*</text>
<circle cx="442.1" cy="255.25" r="1.65" fill="#2b4a80"/>
<circle cx="446.6" cy="254.4" r="1.65" fill="#2b4a80"/>
<circle cx="444.4" cy="261.9" r="1.65" fill="#2b4a80"/>
<circle cx="441.9" cy="268.1" r="1.65" fill="#2b4a80"/>
<circle cx="446.6" cy="268.1" r="1.65" fill="#2b4a80"/>
<circle cx="444.4" cy="272.5" r="1.65" fill="#2b4a80"/>
<circle cx="446.6" cy="279.6" r="1.65" fill="#2b4a80"/>
<circle cx="442.1" cy="282.25" r="1.65" fill="#2b4a80"/>
<line x1="436.9" y1="267.9" x2="451.9" y2="267.9" stroke="#2b4a80" stroke-width="1.4"/>
<line x1="441" y1="264" x2="448.1" y2="264" stroke="#2b4a80" stroke-width="1.2"/>
<line x1="441" y1="271.6" x2="448.1" y2="271.6" stroke="#2b4a80" stroke-width="1.2"/>
<line x1="444.4" y1="264" x2="444.4" y2="271.6" stroke="#2b4a80" stroke-width="1.2"/>
<rect x="460.35" y="268.45" width="3.1" height="3.1" fill="#a5002b"/>
<rect x="464.05" y="270.95" width="3.1" height="3.1" fill="#a5002b"/>
<rect x="468.2" y="270.95" width="3.1" height="3.1" fill="#a5002b"/>
<rect x="472.2" y="268.45" width="3.1" height="3.1" fill="#a5002b"/>
<rect x="464.05" y="286.95" width="3.1" height="3.1" fill="#a5002b"/>
<rect x="468.45" y="286.95" width="3.1" height="3.1" fill="#a5002b"/>
<rect x="464.05" y="294.7" width="3.1" height="3.1" fill="#a5002b"/>
<rect x="468.45" y="294.7" width="3.1" height="3.1" fill="#a5002b"/>
<line x1="460" y1="281.9" x2="475.25" y2="281.9" stroke="#a5002b" stroke-width="1.4"/>
<line x1="464" y1="277.75" x2="471.25" y2="277.75" stroke="#a5002b" stroke-width="1.2"/>
<line x1="464" y1="285.6" x2="471.25" y2="285.6" stroke="#a5002b" stroke-width="1.2"/>
<line x1="467.5" y1="277.75" x2="467.5" y2="285.6" stroke="#a5002b" stroke-width="1.2"/>
<text transform="translate(448,348.3) rotate(-45)" font-size="8.6" text-anchor="end" fill="#1a1a1a">MIF<tspan font-size="5.8" dy="-3.3">low</tspan></text>
<text transform="translate(472,348.3) rotate(-45)" font-size="8.6" text-anchor="end" fill="#1a1a1a">MIF<tspan font-size="5.8" dy="-3.3">high</tspan></text>
<rect x="0.5" y="0.5" width="519" height="439" fill="none" stroke="#000" stroke-width="1"/>
</svg>
</body></html>
